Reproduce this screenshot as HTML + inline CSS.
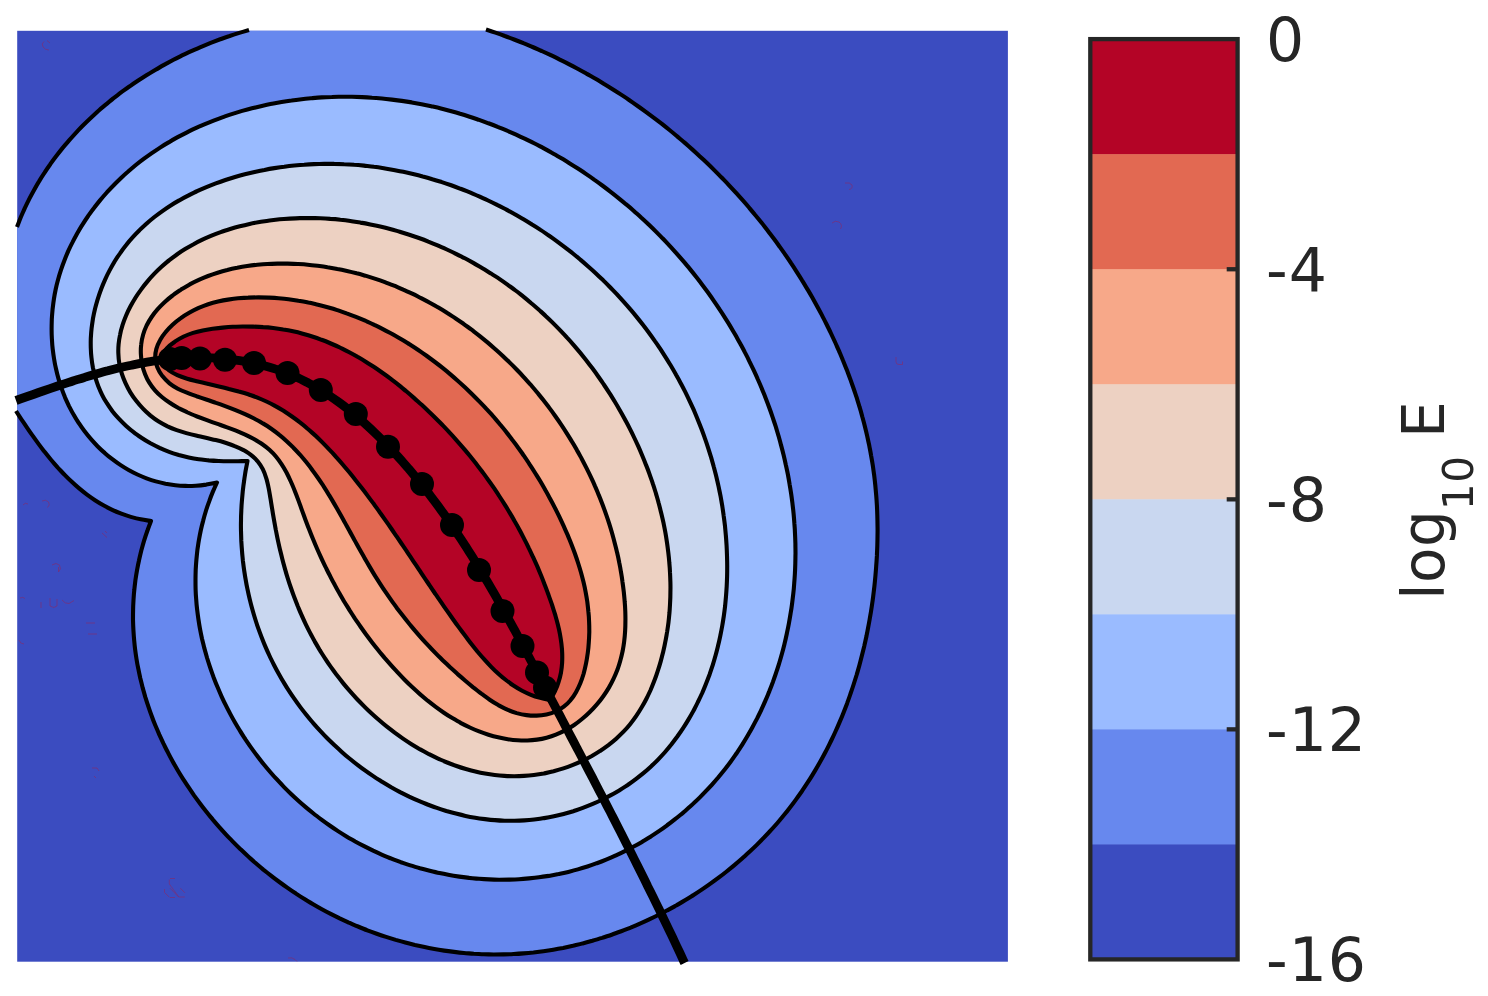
<!DOCTYPE html>
<html><head><meta charset="utf-8"><title>log10 E contour</title>
<style>html,body{margin:0;padding:0;background:#fff;overflow:hidden}svg{display:block}</style>
</head><body>
<svg width="1488" height="996" viewBox="0 0 1488 996">
<defs><clipPath id="pc"><rect x="17.2" y="30.8" width="990.7" height="930.9"/></clipPath></defs>
<rect x="17.2" y="30.8" width="990.7" height="930.9" fill="#3b4cc0"/>
<g clip-path="url(#pc)">
<path d="M249.0 30.0C247.4 30.5 242.6 31.9 239.3 32.9C236.1 33.9 232.9 34.9 229.7 36.0C226.5 37.0 223.3 38.2 220.2 39.3C217.0 40.5 213.8 41.7 210.7 42.9C207.5 44.2 204.4 45.5 201.2 46.8C198.1 48.1 195.0 49.5 191.9 50.9C188.8 52.3 185.7 53.7 182.6 55.2C179.6 56.7 176.5 58.2 173.5 59.8C170.5 61.4 167.5 63.0 164.5 64.6C161.5 66.3 158.5 68.0 155.6 69.7C152.6 71.4 149.7 73.2 146.8 75.0C143.9 76.8 141.0 78.6 138.2 80.5C135.3 82.4 132.5 84.3 129.7 86.3C126.9 88.2 124.2 90.2 121.4 92.2C118.7 94.3 116.0 96.3 113.3 98.4C110.7 100.6 108.0 102.7 105.4 104.9C102.8 107.1 100.2 109.3 97.7 111.5C95.2 113.8 92.7 116.1 90.2 118.4C87.7 120.7 85.3 123.1 82.9 125.5C80.5 127.9 78.2 130.4 75.9 132.8C73.6 135.3 71.3 137.8 69.1 140.4C66.9 142.9 64.7 145.5 62.5 148.1C60.4 150.7 58.3 153.4 56.3 156.0C54.2 158.7 52.2 161.4 50.3 164.2C48.3 167.0 46.4 169.7 44.6 172.6C42.7 175.4 40.9 178.2 39.2 181.1C37.4 184.0 35.7 187.0 34.1 189.9C32.4 192.9 30.8 195.9 29.3 198.9C27.8 201.9 26.3 205.0 24.8 208.1C23.4 211.2 22.1 214.3 20.7 217.4C19.4 220.6 17.6 225.4 17.0 227.0L-5 227.0 L-5 411.0 L16.0 411.0C16.9 412.4 19.6 416.5 21.4 419.3C23.3 422.1 25.1 424.9 27.0 427.6C28.9 430.4 30.8 433.2 32.8 435.9C34.7 438.6 36.7 441.4 38.7 444.1C40.7 446.8 42.8 449.5 44.8 452.1C46.9 454.8 49.0 457.4 51.2 460.0C53.4 462.5 55.6 465.1 57.8 467.6C60.1 470.0 62.3 472.5 64.7 474.9C67.0 477.3 69.4 479.6 71.8 481.8C74.2 484.1 76.7 486.3 79.2 488.4C81.8 490.6 84.3 492.6 87.0 494.6C89.6 496.5 92.3 498.4 95.0 500.2C97.8 502.0 100.6 503.7 103.4 505.3C106.3 506.9 109.2 508.4 112.2 509.8C115.1 511.2 118.2 512.5 121.3 513.7C124.4 514.9 127.5 516.0 130.8 516.9C134.0 517.8 137.3 518.7 140.7 519.3C144.0 520.0 149.3 520.7 151.0 521.0C150.4 522.6 148.5 527.5 147.4 530.8C146.2 534.1 145.1 537.4 144.1 540.6C143.1 543.9 142.2 547.2 141.3 550.5C140.5 553.8 139.7 557.1 139.0 560.4C138.2 563.7 137.6 567.0 137.0 570.3C136.4 573.6 135.9 576.9 135.4 580.2C135.0 583.5 134.6 586.8 134.3 590.1C133.9 593.4 133.7 596.7 133.5 600.0C133.3 603.3 133.1 606.6 133.1 609.9C133.0 613.2 133.0 616.5 133.0 619.8C133.1 623.1 133.2 626.4 133.4 629.7C133.6 632.9 133.8 636.2 134.1 639.5C134.4 642.7 134.7 646.0 135.1 649.3C135.5 652.5 136.0 655.8 136.5 659.0C137.0 662.3 137.6 665.5 138.3 668.7C138.9 671.9 139.6 675.1 140.3 678.3C141.1 681.5 141.9 684.7 142.7 687.9C143.6 691.1 144.5 694.3 145.4 697.4C146.4 700.6 147.4 703.7 148.5 706.9C149.5 710.0 150.6 713.1 151.8 716.2C152.9 719.3 154.1 722.4 155.4 725.5C156.7 728.5 158.0 731.6 159.3 734.6C160.7 737.7 162.1 740.7 163.5 743.7C165.0 746.7 166.4 749.7 168.0 752.6C169.5 755.6 171.1 758.6 172.7 761.5C174.3 764.4 176.0 767.3 177.7 770.2C179.4 773.1 181.2 776.0 183.0 778.8C184.8 781.6 186.6 784.5 188.5 787.2C190.4 790.0 192.3 792.8 194.2 795.6C196.2 798.3 198.2 801.0 200.2 803.7C202.2 806.4 204.3 809.1 206.4 811.7C208.5 814.4 210.7 817.0 212.8 819.6C215.0 822.2 217.2 824.8 219.5 827.3C221.7 829.8 224.0 832.3 226.3 834.8C228.6 837.3 231.0 839.7 233.3 842.1C235.7 844.6 238.1 846.9 240.6 849.3C243.0 851.6 245.5 854.0 248.0 856.3C250.5 858.5 253.0 860.8 255.6 863.0C258.1 865.2 260.7 867.4 263.3 869.6C266.0 871.7 268.6 873.8 271.3 875.9C273.9 878.0 276.6 880.0 279.4 882.0C282.1 884.0 284.8 886.0 287.6 887.9C290.4 889.9 293.1 891.8 296.0 893.6C298.8 895.5 301.6 897.3 304.5 899.0C307.3 900.8 310.2 902.5 313.1 904.2C316.0 905.9 318.9 907.6 321.9 909.2C324.8 910.8 327.8 912.4 330.7 913.9C333.7 915.4 336.7 916.9 339.7 918.4C342.8 919.8 345.8 921.2 348.8 922.6C351.9 923.9 354.9 925.3 358.0 926.5C361.1 927.8 364.2 929.1 367.3 930.3C370.4 931.5 373.5 932.6 376.7 933.7C379.8 934.8 383.0 935.9 386.1 936.9C389.3 937.9 392.5 938.9 395.7 939.9C398.9 940.8 402.1 941.7 405.3 942.5C408.5 943.4 411.7 944.2 414.9 945.0C418.2 945.7 421.4 946.4 424.6 947.1C427.9 947.8 431.1 948.4 434.4 949.0C437.7 949.6 440.9 950.1 444.2 950.6C447.5 951.1 450.8 951.5 454.1 951.9C457.3 952.3 460.6 952.7 463.9 953.0C467.2 953.3 470.5 953.5 473.8 953.8C477.1 954.0 480.5 954.1 483.8 954.3C487.1 954.4 490.4 954.4 493.7 954.5C497.0 954.5 500.3 954.5 503.6 954.4C507.0 954.3 510.3 954.2 513.6 954.0C516.9 953.9 520.2 953.7 523.5 953.4C526.8 953.1 530.2 952.8 533.5 952.5C536.8 952.1 540.1 951.7 543.4 951.2C546.7 950.8 550.0 950.3 553.3 949.7C556.6 949.1 559.8 948.5 563.1 947.9C566.4 947.2 569.7 946.5 572.9 945.8C576.2 945.0 579.5 944.3 582.7 943.4C586.0 942.6 589.2 941.7 592.4 940.8C595.6 939.8 598.9 938.9 602.1 937.9C605.3 936.8 608.5 935.8 611.7 934.7C614.8 933.6 618.0 932.4 621.2 931.2C624.3 930.1 627.5 928.8 630.6 927.6C633.7 926.3 636.8 925.0 639.9 923.6C643.0 922.3 646.1 920.9 649.2 919.4C652.2 918.0 655.3 916.5 658.3 915.0C661.3 913.5 664.3 911.9 667.3 910.3C670.3 908.8 673.3 907.1 676.2 905.5C679.1 903.8 682.1 902.1 685.0 900.3C687.9 898.6 690.7 896.8 693.6 895.0C696.4 893.2 699.3 891.3 702.1 889.4C704.9 887.6 707.7 885.6 710.4 883.7C713.2 881.7 715.9 879.7 718.6 877.7C721.3 875.7 724.0 873.6 726.6 871.5C729.2 869.4 731.8 867.3 734.4 865.1C737.0 863.0 739.6 860.8 742.1 858.6C744.6 856.3 747.1 854.1 749.5 851.8C752.0 849.5 754.4 847.2 756.8 844.9C759.2 842.5 761.6 840.1 763.9 837.7C766.2 835.3 768.5 832.9 770.7 830.4C773.0 828.0 775.2 825.5 777.4 823.0C779.6 820.5 781.7 817.9 783.8 815.3C785.9 812.8 788.0 810.2 790.0 807.5C792.0 804.9 794.0 802.3 795.9 799.6C797.9 796.9 799.8 794.2 801.7 791.5C803.5 788.8 805.4 786.0 807.2 783.2C809.0 780.5 810.8 777.7 812.5 774.9C814.2 772.0 815.9 769.2 817.6 766.3C819.2 763.5 820.8 760.6 822.4 757.7C824.0 754.8 825.5 751.9 827.1 748.9C828.6 746.0 830.0 743.0 831.5 740.0C832.9 737.1 834.3 734.1 835.7 731.0C837.1 728.0 838.4 725.0 839.7 721.9C841.0 718.9 842.3 715.8 843.5 712.7C844.7 709.6 845.9 706.5 847.1 703.4C848.2 700.3 849.4 697.2 850.4 694.0C851.5 690.9 852.6 687.7 853.6 684.5C854.6 681.4 855.6 678.2 856.6 675.0C857.5 671.8 858.5 668.6 859.4 665.3C860.2 662.1 861.1 658.9 861.9 655.6C862.7 652.4 863.5 649.1 864.3 645.9C865.0 642.6 865.8 639.3 866.5 636.0C867.1 632.7 867.8 629.4 868.4 626.1C869.1 622.8 869.6 619.5 870.2 616.2C870.8 612.9 871.3 609.6 871.8 606.2C872.3 602.9 872.8 599.5 873.2 596.2C873.6 592.9 874.0 589.5 874.4 586.2C874.8 582.8 875.1 579.4 875.4 576.1C875.7 572.7 876.0 569.3 876.2 566.0C876.5 562.6 876.7 559.2 876.9 555.9C877.0 552.5 877.2 549.1 877.3 545.8C877.4 542.4 877.5 539.0 877.5 535.6C877.6 532.3 877.6 528.9 877.5 525.5C877.5 522.2 877.4 518.8 877.3 515.4C877.2 512.1 877.1 508.7 876.9 505.4C876.7 502.0 876.5 498.7 876.2 495.3C875.9 492.0 875.6 488.7 875.3 485.3C875.0 482.0 874.6 478.7 874.2 475.4C873.7 472.1 873.3 468.8 872.8 465.5C872.3 462.2 871.7 458.9 871.1 455.6C870.6 452.3 869.9 449.1 869.3 445.8C868.6 442.6 867.9 439.3 867.2 436.1C866.5 432.8 865.7 429.6 864.9 426.4C864.1 423.2 863.2 420.0 862.3 416.8C861.5 413.6 860.6 410.4 859.6 407.2C858.7 404.0 857.7 400.9 856.7 397.7C855.6 394.5 854.6 391.4 853.5 388.3C852.4 385.1 851.3 382.0 850.2 378.9C849.0 375.8 847.9 372.7 846.7 369.6C845.4 366.5 844.2 363.4 842.9 360.3C841.7 357.2 840.4 354.2 839.1 351.1C837.7 348.1 836.4 345.0 835.0 342.0C833.6 339.0 832.2 336.0 830.8 333.0C829.4 330.0 827.9 327.0 826.4 324.0C824.9 321.0 823.4 318.0 821.9 315.1C820.3 312.1 818.7 309.2 817.1 306.3C815.5 303.3 813.9 300.4 812.3 297.5C810.6 294.6 808.9 291.7 807.2 288.9C805.5 286.0 803.8 283.1 802.0 280.3C800.3 277.4 798.5 274.6 796.7 271.8C794.9 269.0 793.1 266.2 791.2 263.4C789.4 260.6 787.5 257.8 785.6 255.1C783.7 252.3 781.7 249.6 779.8 246.9C777.8 244.1 775.9 241.4 773.9 238.8C771.9 236.1 769.8 233.4 767.8 230.7C765.7 228.1 763.7 225.4 761.6 222.8C759.5 220.2 757.4 217.6 755.2 215.0C753.1 212.4 750.9 209.8 748.8 207.3C746.6 204.7 744.4 202.2 742.2 199.7C739.9 197.2 737.7 194.7 735.4 192.2C733.2 189.7 730.9 187.2 728.6 184.8C726.3 182.3 723.9 179.9 721.6 177.5C719.2 175.1 716.9 172.7 714.5 170.4C712.1 168.0 709.7 165.6 707.3 163.3C704.8 161.0 702.4 158.7 699.9 156.4C697.4 154.1 695.0 151.9 692.5 149.6C690.0 147.4 687.4 145.1 684.9 142.9C682.4 140.7 679.8 138.6 677.2 136.4C674.7 134.3 672.1 132.1 669.5 130.0C666.8 127.9 664.2 125.8 661.6 123.7C658.9 121.7 656.3 119.6 653.6 117.6C650.9 115.6 648.2 113.6 645.5 111.6C642.8 109.6 640.1 107.6 637.3 105.7C634.6 103.8 631.8 101.9 629.1 100.0C626.3 98.1 623.5 96.2 620.7 94.4C617.9 92.6 615.1 90.8 612.2 89.0C609.4 87.2 606.6 85.4 603.7 83.7C600.9 81.9 598.0 80.2 595.1 78.5C592.2 76.9 589.3 75.2 586.4 73.6C583.5 71.9 580.5 70.3 577.6 68.7C574.7 67.2 571.7 65.6 568.8 64.1C565.8 62.5 562.8 61.0 559.8 59.6C556.8 58.1 553.8 56.6 550.8 55.2C547.8 53.8 544.8 52.4 541.7 51.0C538.7 49.7 535.7 48.3 532.6 47.0C529.5 45.7 526.5 44.4 523.4 43.2C520.3 41.9 517.2 40.7 514.1 39.5C511.0 38.3 507.9 37.1 504.8 36.0C501.7 34.8 498.6 33.7 495.4 32.6C492.3 31.6 487.6 30.0 486.0 29.5L486.0 0 L249.0 0Z" fill="#6788ee"/>
<path d="M217.0 482.5C215.2 482.8 209.9 484.0 206.3 484.6C202.8 485.1 199.3 485.5 195.8 485.7C192.4 485.9 188.9 486.0 185.5 485.9C182.1 485.8 178.7 485.6 175.4 485.2C172.0 484.8 168.7 484.3 165.5 483.7C162.2 483.0 159.0 482.3 155.8 481.4C152.7 480.5 149.5 479.4 146.5 478.3C143.4 477.1 140.4 475.9 137.4 474.5C134.4 473.1 131.5 471.6 128.6 470.0C125.8 468.4 123.0 466.7 120.3 464.9C117.5 463.1 114.9 461.2 112.3 459.2C109.7 457.2 107.1 455.1 104.7 452.9C102.2 450.8 99.8 448.5 97.5 446.2C95.2 443.8 93.0 441.4 90.8 438.9C88.6 436.5 86.6 433.9 84.6 431.3C82.6 428.7 80.7 426.0 78.9 423.2C77.0 420.5 75.3 417.7 73.7 414.8C72.0 412.0 70.5 409.0 69.0 406.1C67.6 403.1 66.2 400.1 64.9 397.1C63.7 394.1 62.5 391.0 61.4 387.9C60.3 384.7 59.3 381.6 58.4 378.4C57.5 375.2 56.7 372.0 56.0 368.8C55.2 365.5 54.6 362.3 54.1 359.0C53.5 355.7 53.1 352.4 52.7 349.1C52.3 345.8 52.1 342.5 51.9 339.1C51.7 335.8 51.6 332.5 51.6 329.1C51.6 325.8 51.7 322.4 51.8 319.1C52.0 315.8 52.3 312.4 52.6 309.1C53.0 305.8 53.4 302.4 53.9 299.1C54.4 295.8 55.0 292.5 55.7 289.2C56.4 286.0 57.2 282.7 58.1 279.5C59.0 276.2 59.9 273.0 61.0 269.8C62.0 266.7 63.2 263.5 64.4 260.4C65.6 257.3 66.9 254.2 68.2 251.1C69.6 248.1 71.0 245.1 72.6 242.1C74.1 239.1 75.7 236.1 77.3 233.2C79.0 230.3 80.7 227.4 82.5 224.6C84.3 221.7 86.1 218.9 88.0 216.2C90.0 213.4 91.9 210.7 94.0 208.0C96.0 205.3 98.1 202.7 100.2 200.1C102.4 197.5 104.6 195.0 106.8 192.5C109.1 190.0 111.3 187.6 113.7 185.2C116.0 182.8 118.4 180.5 120.8 178.2C123.2 175.9 125.7 173.6 128.2 171.5C130.7 169.3 133.3 167.1 135.8 165.0C138.4 162.9 141.0 160.9 143.7 158.9C146.4 156.9 149.1 155.0 151.8 153.1C154.5 151.2 157.3 149.4 160.1 147.6C162.9 145.8 165.7 144.0 168.6 142.4C171.4 140.7 174.3 139.0 177.2 137.4C180.2 135.8 183.1 134.3 186.1 132.8C189.1 131.3 192.1 129.8 195.1 128.4C198.1 127.0 201.2 125.7 204.3 124.4C207.3 123.1 210.4 121.8 213.6 120.6C216.7 119.4 219.8 118.2 223.0 117.1C226.2 116.0 229.3 114.9 232.5 113.9C235.7 112.9 239.0 111.9 242.2 110.9C245.4 110.0 248.7 109.1 251.9 108.3C255.2 107.5 258.5 106.7 261.8 105.9C265.1 105.2 268.4 104.5 271.7 103.8C275.0 103.2 278.3 102.6 281.6 102.0C284.9 101.4 288.3 100.9 291.6 100.5C295.0 100.0 298.3 99.6 301.7 99.2C305.0 98.8 308.4 98.5 311.7 98.2C315.1 97.9 318.4 97.6 321.8 97.4C325.2 97.2 328.5 97.1 331.9 97.0C335.2 96.8 338.6 96.8 342.0 96.7C345.3 96.7 348.7 96.7 352.0 96.8C355.4 96.9 358.7 97.0 362.0 97.1C365.4 97.2 368.7 97.4 372.0 97.7C375.4 97.9 378.7 98.2 382.0 98.5C385.3 98.8 388.6 99.2 391.9 99.6C395.2 100.0 398.5 100.4 401.8 100.9C405.1 101.4 408.4 101.9 411.7 102.4C414.9 103.0 418.2 103.6 421.5 104.2C424.7 104.9 428.0 105.6 431.2 106.3C434.4 107.0 437.7 107.7 440.9 108.5C444.1 109.3 447.3 110.2 450.5 111.0C453.7 111.9 456.9 112.8 460.1 113.8C463.3 114.7 466.5 115.7 469.6 116.7C472.8 117.7 475.9 118.8 479.1 119.9C482.2 121.0 485.3 122.1 488.4 123.3C491.6 124.4 494.7 125.6 497.7 126.9C500.8 128.1 503.9 129.4 507.0 130.7C510.0 132.0 513.1 133.3 516.1 134.7C519.1 136.1 522.2 137.5 525.2 138.9C528.2 140.4 531.2 141.8 534.1 143.3C537.1 144.8 540.1 146.4 543.0 147.9C545.9 149.5 548.9 151.1 551.8 152.8C554.7 154.4 557.6 156.1 560.5 157.8C563.3 159.4 566.2 161.2 569.0 162.9C571.9 164.7 574.7 166.5 577.5 168.3C580.3 170.1 583.1 172.0 585.9 173.9C588.6 175.7 591.4 177.6 594.1 179.6C596.9 181.5 599.6 183.5 602.3 185.5C605.0 187.5 607.6 189.5 610.3 191.6C612.9 193.6 615.6 195.7 618.2 197.8C620.8 199.9 623.4 202.0 625.9 204.2C628.5 206.3 631.1 208.5 633.6 210.7C636.1 213.0 638.6 215.2 641.1 217.5C643.6 219.7 646.0 222.0 648.4 224.3C650.9 226.7 653.3 229.0 655.7 231.4C658.1 233.7 660.4 236.1 662.8 238.5C665.1 240.9 667.4 243.4 669.7 245.8C672.0 248.3 674.2 250.8 676.5 253.3C678.7 255.8 680.9 258.3 683.1 260.9C685.3 263.4 687.4 266.0 689.6 268.6C691.7 271.2 693.8 273.8 695.9 276.5C698.0 279.1 700.0 281.8 702.0 284.4C704.0 287.1 706.0 289.8 708.0 292.5C710.0 295.3 711.9 298.0 713.8 300.8C715.7 303.5 717.6 306.3 719.4 309.1C721.3 311.9 723.1 314.7 724.9 317.6C726.7 320.4 728.5 323.2 730.2 326.1C731.9 329.0 733.6 331.9 735.3 334.8C736.9 337.7 738.6 340.6 740.2 343.5C741.8 346.5 743.4 349.4 744.9 352.4C746.5 355.4 748.0 358.3 749.4 361.3C750.9 364.3 752.4 367.4 753.8 370.4C755.2 373.4 756.6 376.4 757.9 379.5C759.3 382.6 760.6 385.6 761.9 388.7C763.1 391.8 764.4 394.9 765.6 398.0C766.8 401.1 768.0 404.2 769.1 407.3C770.3 410.5 771.4 413.6 772.5 416.8C773.5 419.9 774.6 423.1 775.6 426.2C776.6 429.4 777.5 432.6 778.5 435.8C779.4 439.0 780.3 442.2 781.1 445.4C782.0 448.6 782.8 451.8 783.6 455.0C784.4 458.3 785.1 461.5 785.8 464.7C786.6 468.0 787.2 471.2 787.9 474.5C788.5 477.7 789.1 481.0 789.6 484.3C790.2 487.5 790.7 490.8 791.2 494.1C791.7 497.4 792.1 500.7 792.5 503.9C792.9 507.2 793.3 510.5 793.6 513.8C793.9 517.1 794.2 520.4 794.4 523.7C794.7 527.0 794.9 530.4 795.0 533.7C795.2 537.0 795.3 540.3 795.4 543.6C795.4 546.9 795.5 550.3 795.5 553.6C795.4 556.9 795.4 560.2 795.3 563.6C795.2 566.9 795.1 570.2 794.9 573.5C794.7 576.9 794.5 580.2 794.2 583.5C794.0 586.8 793.7 590.2 793.3 593.5C792.9 596.8 792.5 600.1 792.1 603.5C791.7 606.8 791.2 610.1 790.6 613.4C790.1 616.7 789.5 620.0 788.9 623.3C788.3 626.6 787.6 629.9 786.9 633.2C786.2 636.5 785.5 639.8 784.7 643.1C783.9 646.3 783.1 649.6 782.2 652.8C781.3 656.1 780.4 659.3 779.4 662.5C778.4 665.7 777.4 669.0 776.3 672.1C775.3 675.3 774.1 678.5 773.0 681.7C771.8 684.8 770.6 688.0 769.4 691.1C768.1 694.2 766.9 697.3 765.5 700.4C764.2 703.5 762.8 706.5 761.4 709.6C760.0 712.6 758.5 715.6 757.0 718.6C755.4 721.6 753.9 724.6 752.3 727.5C750.7 730.5 749.0 733.4 747.3 736.3C745.6 739.2 743.9 742.0 742.1 744.9C740.3 747.7 738.4 750.5 736.6 753.3C734.7 756.0 732.8 758.8 730.8 761.5C728.8 764.2 726.8 766.9 724.7 769.5C722.6 772.1 720.5 774.7 718.4 777.3C716.2 779.9 714.0 782.4 711.8 784.9C709.5 787.4 707.2 789.8 704.9 792.2C702.6 794.7 700.2 797.0 697.8 799.4C695.4 801.7 692.9 804.0 690.4 806.3C688.0 808.5 685.4 810.7 682.9 812.9C680.3 815.0 677.7 817.2 675.1 819.2C672.5 821.3 669.8 823.4 667.1 825.3C664.4 827.3 661.7 829.3 658.9 831.1C656.1 833.0 653.3 834.9 650.5 836.7C647.7 838.5 644.8 840.2 642.0 841.9C639.1 843.6 636.2 845.2 633.2 846.8C630.3 848.4 627.3 849.9 624.3 851.4C621.4 852.9 618.3 854.3 615.3 855.7C612.3 857.1 609.2 858.4 606.1 859.6C603.1 860.9 600.0 862.1 596.8 863.2C593.7 864.4 590.6 865.5 587.4 866.5C584.3 867.5 581.1 868.5 577.9 869.4C574.7 870.3 571.5 871.1 568.3 871.9C565.1 872.7 561.8 873.4 558.6 874.1C555.3 874.7 552.1 875.3 548.8 875.9C545.5 876.4 542.2 876.9 538.9 877.3C535.6 877.8 532.3 878.1 529.0 878.4C525.7 878.7 522.4 879.0 519.1 879.2C515.8 879.4 512.4 879.5 509.1 879.6C505.8 879.7 502.5 879.7 499.1 879.7C495.8 879.7 492.5 879.6 489.1 879.4C485.8 879.3 482.5 879.1 479.2 878.8C475.8 878.6 472.5 878.2 469.2 877.9C465.9 877.5 462.6 877.1 459.3 876.6C456.0 876.1 452.7 875.6 449.4 875.0C446.1 874.4 442.8 873.8 439.5 873.1C436.3 872.4 433.0 871.6 429.7 870.8C426.5 870.0 423.3 869.2 420.0 868.3C416.8 867.3 413.6 866.4 410.4 865.4C407.2 864.4 404.1 863.3 400.9 862.2C397.8 861.0 394.6 859.9 391.5 858.6C388.4 857.4 385.3 856.1 382.2 854.8C379.2 853.5 376.1 852.1 373.1 850.7C370.1 849.2 367.1 847.7 364.1 846.2C361.1 844.7 358.1 843.1 355.2 841.5C352.3 839.8 349.4 838.2 346.5 836.4C343.7 834.7 340.8 832.9 338.0 831.1C335.2 829.3 332.4 827.4 329.7 825.5C326.9 823.6 324.2 821.6 321.5 819.6C318.8 817.6 316.1 815.6 313.5 813.5C310.9 811.4 308.3 809.3 305.7 807.1C303.2 805.0 300.6 802.8 298.1 800.5C295.7 798.3 293.2 796.0 290.8 793.7C288.3 791.3 286.0 789.0 283.6 786.6C281.3 784.2 279.0 781.7 276.7 779.2C274.4 776.8 272.2 774.3 270.0 771.7C267.8 769.2 265.6 766.6 263.5 764.0C261.4 761.4 259.3 758.7 257.3 756.0C255.3 753.4 253.3 750.7 251.3 747.9C249.4 745.2 247.5 742.4 245.6 739.6C243.8 736.8 241.9 734.0 240.2 731.1C238.4 728.3 236.7 725.4 235.0 722.5C233.3 719.5 231.7 716.6 230.1 713.6C228.5 710.7 227.0 707.7 225.5 704.7C224.0 701.7 222.6 698.6 221.2 695.6C219.8 692.5 218.5 689.4 217.2 686.3C215.9 683.3 214.7 680.1 213.5 677.0C212.4 673.9 211.2 670.7 210.2 667.6C209.1 664.4 208.1 661.2 207.1 658.0C206.2 654.8 205.3 651.6 204.4 648.4C203.6 645.2 202.8 641.9 202.0 638.7C201.3 635.5 200.6 632.2 200.0 628.9C199.4 625.7 198.9 622.4 198.4 619.1C197.9 615.8 197.5 612.6 197.1 609.3C196.7 606.0 196.4 602.7 196.2 599.4C195.9 596.1 195.7 592.8 195.6 589.5C195.5 586.2 195.5 582.9 195.5 579.6C195.5 576.3 195.6 573.0 195.7 569.7C195.9 566.4 196.1 563.1 196.4 559.8C196.7 556.5 197.0 553.2 197.4 549.9C197.9 546.7 198.3 543.4 198.9 540.1C199.5 536.8 200.1 533.6 200.8 530.3C201.5 527.1 202.3 523.8 203.2 520.6C204.0 517.4 204.9 514.2 205.9 511.0C206.9 507.7 208.0 504.6 209.2 501.4C210.3 498.2 211.5 495.0 212.8 491.9C214.2 488.7 216.3 484.1 217.0 482.5Z" fill="#9abbff"/>
<path d="M247.5 461.0C245.9 461.0 241.3 461.2 238.1 461.3C235.0 461.3 231.8 461.3 228.5 461.3C225.3 461.3 222.0 461.2 218.7 461.0C215.4 460.9 212.0 460.7 208.7 460.4C205.4 460.0 202.0 459.7 198.7 459.2C195.3 458.7 192.0 458.1 188.7 457.4C185.4 456.7 182.1 455.9 178.8 455.0C175.5 454.0 172.3 453.0 169.1 451.8C165.9 450.6 162.7 449.3 159.6 447.9C156.5 446.4 153.5 444.9 150.5 443.3C147.5 441.6 144.6 439.9 141.8 438.0C139.0 436.1 136.2 434.2 133.6 432.1C130.9 430.1 128.3 427.9 125.9 425.7C123.4 423.4 121.0 421.1 118.8 418.7C116.6 416.3 114.4 413.8 112.4 411.2C110.5 408.6 108.6 405.9 106.9 403.2C105.1 400.5 103.5 397.7 102.1 394.8C100.7 392.0 99.4 389.0 98.2 386.0C97.1 383.1 96.1 380.0 95.2 376.9C94.3 373.9 93.6 370.7 92.9 367.5C92.3 364.4 91.8 361.2 91.5 357.9C91.1 354.7 90.9 351.4 90.8 348.2C90.7 344.9 90.7 341.6 90.8 338.3C91.0 335.0 91.2 331.6 91.6 328.3C92.0 325.0 92.5 321.7 93.0 318.4C93.6 315.1 94.3 311.8 95.1 308.5C96.0 305.2 96.9 301.9 97.9 298.7C98.9 295.4 100.0 292.2 101.2 289.0C102.4 285.8 103.7 282.7 105.1 279.6C106.5 276.5 108.0 273.4 109.6 270.4C111.2 267.4 112.9 264.4 114.6 261.5C116.4 258.6 118.2 255.8 120.2 253.1C122.1 250.3 124.1 247.6 126.2 245.0C128.2 242.4 130.4 239.8 132.6 237.4C134.8 234.9 137.1 232.5 139.5 230.2C141.8 227.8 144.3 225.6 146.7 223.4C149.2 221.2 151.8 219.1 154.4 217.0C157.0 215.0 159.7 213.0 162.4 211.1C165.1 209.2 167.8 207.3 170.7 205.5C173.5 203.7 176.3 202.0 179.2 200.4C182.1 198.7 185.1 197.1 188.1 195.6C191.0 194.0 194.1 192.6 197.1 191.1C200.2 189.7 203.3 188.4 206.4 187.1C209.5 185.8 212.6 184.6 215.8 183.4C219.0 182.2 222.1 181.1 225.4 180.0C228.6 179.0 231.8 178.0 235.0 177.0C238.3 176.0 241.5 175.1 244.8 174.3C248.1 173.5 251.4 172.7 254.6 171.9C257.9 171.2 261.2 170.5 264.5 169.9C267.8 169.2 271.1 168.6 274.4 168.1C277.7 167.6 281.0 167.1 284.3 166.7C287.6 166.2 291.0 165.8 294.3 165.5C297.6 165.2 300.9 164.9 304.2 164.7C307.6 164.4 310.9 164.2 314.2 164.1C317.5 164.0 320.9 163.9 324.2 163.8C327.5 163.8 330.8 163.8 334.2 163.9C337.5 163.9 340.8 164.0 344.1 164.2C347.4 164.3 350.8 164.5 354.1 164.8C357.4 165.0 360.7 165.3 364.0 165.6C367.3 166.0 370.6 166.3 373.9 166.8C377.2 167.2 380.5 167.7 383.7 168.2C387.0 168.7 390.3 169.3 393.6 169.9C396.8 170.5 400.1 171.1 403.3 171.8C406.6 172.5 409.8 173.2 413.0 174.0C416.3 174.8 419.5 175.6 422.7 176.5C425.9 177.3 429.1 178.2 432.3 179.2C435.5 180.1 438.6 181.1 441.8 182.1C444.9 183.1 448.1 184.2 451.2 185.3C454.4 186.4 457.5 187.6 460.6 188.8C463.7 189.9 466.8 191.2 469.9 192.4C472.9 193.7 476.0 195.0 479.1 196.4C482.1 197.7 485.1 199.1 488.1 200.5C491.2 201.9 494.2 203.4 497.1 204.9C500.1 206.3 503.1 207.9 506.0 209.4C509.0 211.0 511.9 212.6 514.8 214.2C517.7 215.9 520.6 217.5 523.5 219.2C526.4 220.9 529.2 222.7 532.0 224.5C534.9 226.2 537.7 228.0 540.5 229.9C543.3 231.7 546.0 233.6 548.8 235.5C551.5 237.4 554.3 239.4 557.0 241.3C559.7 243.3 562.3 245.3 565.0 247.3C567.6 249.4 570.3 251.4 572.9 253.5C575.5 255.6 578.1 257.8 580.6 259.9C583.2 262.1 585.7 264.3 588.2 266.5C590.7 268.7 593.2 270.9 595.7 273.2C598.1 275.5 600.6 277.8 603.0 280.1C605.4 282.5 607.7 284.8 610.1 287.2C612.4 289.6 614.8 292.0 617.0 294.4C619.3 296.9 621.6 299.4 623.8 301.8C626.1 304.3 628.3 306.9 630.4 309.4C632.6 311.9 634.7 314.5 636.8 317.1C638.9 319.7 641.0 322.3 643.1 325.0C645.1 327.6 647.1 330.3 649.1 333.0C651.1 335.7 653.0 338.4 654.9 341.1C656.9 343.8 658.7 346.6 660.6 349.4C662.4 352.2 664.2 355.0 666.0 357.8C667.8 360.6 669.5 363.5 671.2 366.3C672.9 369.2 674.6 372.1 676.2 375.0C677.9 377.9 679.5 380.8 681.0 383.8C682.6 386.7 684.1 389.7 685.6 392.6C687.1 395.6 688.5 398.6 689.9 401.6C691.3 404.7 692.7 407.7 694.1 410.7C695.4 413.8 696.7 416.9 697.9 419.9C699.2 423.0 700.4 426.1 701.6 429.2C702.8 432.3 703.9 435.5 705.0 438.6C706.1 441.7 707.2 444.9 708.2 448.1C709.2 451.2 710.2 454.4 711.2 457.6C712.1 460.8 713.0 464.0 713.9 467.2C714.7 470.4 715.6 473.6 716.4 476.9C717.1 480.1 717.9 483.4 718.6 486.6C719.3 489.9 719.9 493.1 720.6 496.4C721.2 499.7 721.7 503.0 722.3 506.2C722.8 509.5 723.3 512.8 723.7 516.1C724.2 519.4 724.6 522.7 725.0 526.1C725.3 529.4 725.6 532.7 725.9 536.0C726.2 539.3 726.4 542.7 726.6 546.0C726.8 549.3 726.9 552.7 727.0 556.0C727.1 559.4 727.2 562.7 727.2 566.1C727.2 569.4 727.2 572.8 727.1 576.1C727.0 579.4 726.9 582.8 726.7 586.1C726.5 589.5 726.3 592.8 726.0 596.2C725.7 599.5 725.4 602.8 725.1 606.1C724.7 609.5 724.3 612.8 723.8 616.1C723.3 619.4 722.8 622.7 722.2 626.0C721.6 629.3 721.0 632.6 720.3 635.8C719.6 639.1 718.9 642.4 718.1 645.6C717.3 648.8 716.5 652.1 715.6 655.3C714.7 658.5 713.8 661.7 712.8 664.9C711.7 668.1 710.7 671.2 709.6 674.4C708.4 677.5 707.3 680.6 706.0 683.7C704.8 686.8 703.5 689.9 702.2 693.0C700.8 696.0 699.4 699.0 697.9 702.0C696.5 705.0 694.9 708.0 693.4 710.9C691.8 713.9 690.1 716.8 688.4 719.6C686.7 722.5 685.0 725.3 683.1 728.1C681.3 730.9 679.4 733.6 677.5 736.3C675.5 739.0 673.5 741.7 671.5 744.3C669.4 746.9 667.3 749.5 665.1 752.0C662.9 754.5 660.6 756.9 658.3 759.3C656.0 761.7 653.6 764.0 651.2 766.3C648.8 768.5 646.3 770.8 643.7 772.9C641.1 775.0 638.5 777.1 635.8 779.1C633.2 781.1 630.4 783.1 627.7 785.0C624.9 786.8 622.0 788.7 619.2 790.4C616.3 792.1 613.4 793.8 610.4 795.4C607.4 797.0 604.4 798.6 601.4 800.0C598.4 801.5 595.3 802.9 592.2 804.2C589.1 805.5 586.0 806.7 582.8 807.9C579.7 809.1 576.5 810.1 573.3 811.2C570.1 812.2 566.9 813.1 563.6 814.0C560.4 814.8 557.1 815.6 553.9 816.3C550.6 817.0 547.3 817.6 544.1 818.1C540.8 818.7 537.5 819.1 534.2 819.5C530.9 819.9 527.6 820.2 524.3 820.4C521.1 820.6 517.8 820.7 514.5 820.7C511.2 820.8 507.9 820.8 504.6 820.7C501.3 820.6 498.1 820.4 494.8 820.1C491.5 819.9 488.2 819.5 485.0 819.1C481.7 818.7 478.5 818.3 475.2 817.7C472.0 817.2 468.7 816.6 465.5 815.9C462.3 815.2 459.1 814.4 455.9 813.6C452.7 812.8 449.5 811.9 446.3 811.0C443.1 810.0 440.0 809.0 436.9 807.9C433.7 806.9 430.6 805.7 427.5 804.5C424.4 803.3 421.3 802.0 418.2 800.7C415.2 799.4 412.1 798.0 409.1 796.6C406.1 795.1 403.1 793.6 400.1 792.1C397.1 790.5 394.2 788.9 391.2 787.3C388.3 785.6 385.4 783.9 382.5 782.1C379.7 780.3 376.8 778.5 374.0 776.6C371.2 774.8 368.4 772.9 365.7 770.9C362.9 768.9 360.2 766.9 357.5 764.8C354.8 762.8 352.2 760.7 349.5 758.5C346.9 756.4 344.3 754.2 341.8 751.9C339.3 749.7 336.8 747.4 334.3 745.1C331.8 742.7 329.4 740.4 327.0 738.0C324.6 735.6 322.3 733.1 320.0 730.6C317.7 728.2 315.4 725.6 313.2 723.1C311.0 720.5 308.8 718.0 306.7 715.3C304.6 712.7 302.5 710.1 300.5 707.4C298.5 704.7 296.5 702.0 294.6 699.2C292.7 696.5 290.8 693.7 289.0 690.9C287.1 688.1 285.4 685.3 283.7 682.4C281.9 679.6 280.3 676.7 278.7 673.8C277.0 670.8 275.5 667.9 274.0 665.0C272.5 662.0 271.0 659.0 269.6 656.0C268.2 653.0 266.8 650.0 265.5 646.9C264.2 643.9 263.0 640.8 261.8 637.7C260.6 634.6 259.4 631.5 258.3 628.4C257.2 625.3 256.2 622.2 255.2 619.0C254.2 615.8 253.3 612.7 252.4 609.5C251.5 606.3 250.6 603.1 249.9 599.9C249.1 596.7 248.3 593.4 247.7 590.2C247.0 586.9 246.3 583.7 245.8 580.4C245.2 577.2 244.7 573.9 244.2 570.6C243.7 567.3 243.3 564.0 242.9 560.7C242.6 557.4 242.2 554.1 242.0 550.8C241.7 547.5 241.5 544.2 241.3 540.9C241.2 537.5 241.1 534.2 241.0 530.9C240.9 527.5 240.9 524.2 241.0 520.9C241.0 517.5 241.1 514.2 241.3 510.9C241.4 507.5 241.6 504.2 241.9 500.9C242.2 497.5 242.5 494.2 242.8 490.9C243.2 487.5 243.6 484.2 244.1 480.9C244.5 477.6 245.1 474.2 245.6 470.9C246.2 467.6 247.2 462.7 247.5 461.0Z" fill="#c9d7f0"/>
<path d="M299.9 218.1C303.3 218.0 306.7 218.0 310.1 218.0C313.5 218.1 316.8 218.2 320.2 218.3C323.6 218.4 327.0 218.6 330.3 218.9C333.7 219.1 337.0 219.4 340.4 219.8C343.7 220.1 347.1 220.5 350.4 221.0C353.7 221.5 357.1 222.0 360.4 222.6C363.7 223.1 367.0 223.7 370.3 224.4C373.6 225.1 376.9 225.8 380.2 226.5C383.5 227.3 386.7 228.1 390.0 229.0C393.2 229.8 396.5 230.8 399.7 231.7C402.9 232.7 406.1 233.7 409.3 234.7C412.5 235.8 415.7 236.9 418.9 238.0C422.0 239.1 425.2 240.3 428.3 241.6C431.4 242.8 434.6 244.1 437.6 245.4C440.7 246.7 443.8 248.1 446.9 249.5C449.9 250.9 452.9 252.3 456.0 253.8C459.0 255.3 462.0 256.8 464.9 258.3C467.9 259.9 470.8 261.5 473.7 263.1C476.7 264.8 479.5 266.5 482.4 268.2C485.3 269.9 488.1 271.7 490.9 273.4C493.7 275.2 496.5 277.1 499.3 278.9C502.1 280.8 504.8 282.7 507.5 284.6C510.2 286.6 512.9 288.5 515.5 290.5C518.2 292.5 520.8 294.6 523.4 296.6C526.0 298.7 528.5 300.8 531.0 303.0C533.6 305.1 536.1 307.3 538.6 309.5C541.0 311.7 543.5 313.9 545.9 316.2C548.3 318.4 550.7 320.7 553.1 323.1C555.4 325.4 557.7 327.7 560.0 330.1C562.3 332.5 564.6 334.9 566.8 337.4C569.1 339.8 571.3 342.3 573.5 344.8C575.6 347.3 577.8 349.9 579.9 352.4C582.0 355.0 584.1 357.6 586.2 360.2C588.2 362.8 590.2 365.5 592.2 368.1C594.2 370.8 596.2 373.5 598.1 376.2C600.1 379.0 602.0 381.7 603.8 384.5C605.7 387.3 607.5 390.1 609.3 392.9C611.1 395.7 612.9 398.6 614.7 401.5C616.4 404.3 618.1 407.2 619.8 410.2C621.5 413.1 623.1 416.0 624.7 419.0C626.3 422.0 627.9 424.9 629.4 427.9C631.0 431.0 632.5 434.0 633.9 437.0C635.4 440.1 636.8 443.1 638.2 446.2C639.6 449.3 640.9 452.4 642.2 455.5C643.5 458.6 644.8 461.8 646.0 464.9C647.3 468.0 648.5 471.2 649.6 474.4C650.7 477.6 651.9 480.7 652.9 483.9C654.0 487.1 655.0 490.4 656.0 493.6C656.9 496.8 657.9 500.0 658.7 503.3C659.6 506.5 660.4 509.8 661.2 513.0C662.0 516.3 662.8 519.6 663.5 522.9C664.1 526.1 664.8 529.4 665.4 532.7C666.0 536.0 666.5 539.3 667.0 542.6C667.5 545.9 667.9 549.2 668.3 552.5C668.7 555.8 669.1 559.2 669.3 562.5C669.6 565.8 669.9 569.1 670.0 572.4C670.2 575.8 670.3 579.1 670.4 582.4C670.5 585.7 670.5 589.0 670.4 592.4C670.4 595.7 670.3 599.0 670.1 602.3C670.0 605.6 669.7 608.9 669.5 612.3C669.2 615.6 668.9 618.9 668.5 622.2C668.1 625.5 667.6 628.8 667.1 632.0C666.5 635.3 666.0 638.6 665.3 641.9C664.7 645.2 664.0 648.4 663.2 651.7C662.4 654.9 661.6 658.2 660.7 661.4C659.8 664.7 658.8 667.9 657.7 671.1C656.7 674.3 655.6 677.5 654.4 680.6C653.2 683.8 651.9 686.9 650.6 690.0C649.2 693.0 647.8 696.1 646.3 699.0C644.8 702.0 643.1 705.0 641.4 707.8C639.7 710.7 637.9 713.5 636.1 716.2C634.2 719.0 632.2 721.6 630.1 724.2C628.0 726.8 625.8 729.3 623.5 731.7C621.1 734.1 618.7 736.4 616.2 738.7C613.7 740.9 611.1 743.0 608.4 745.1C605.7 747.1 603.0 749.1 600.1 750.9C597.3 752.8 594.4 754.5 591.4 756.2C588.4 757.8 585.4 759.4 582.3 760.9C579.3 762.3 576.1 763.7 573.0 764.9C569.8 766.2 566.6 767.4 563.4 768.4C560.1 769.5 556.9 770.4 553.6 771.3C550.3 772.1 547.0 772.8 543.8 773.5C540.5 774.1 537.2 774.6 533.9 775.0C530.6 775.4 527.3 775.7 524.0 775.9C520.7 776.1 517.5 776.2 514.2 776.2C510.9 776.2 507.7 776.1 504.4 775.9C501.1 775.7 497.9 775.4 494.7 775.0C491.4 774.6 488.2 774.1 485.0 773.5C481.8 773.0 478.6 772.3 475.4 771.5C472.2 770.8 469.0 769.9 465.9 769.0C462.7 768.1 459.6 767.1 456.5 766.0C453.4 764.9 450.3 763.8 447.2 762.5C444.1 761.3 441.1 759.9 438.1 758.6C435.0 757.2 432.0 755.7 429.0 754.2C426.1 752.6 423.1 751.0 420.2 749.4C417.3 747.7 414.4 746.0 411.5 744.2C408.6 742.4 405.8 740.5 403.0 738.6C400.2 736.7 397.4 734.7 394.7 732.7C392.0 730.6 389.3 728.5 386.6 726.4C383.9 724.3 381.3 722.1 378.7 719.8C376.1 717.6 373.6 715.3 371.1 713.0C368.6 710.6 366.1 708.3 363.7 705.8C361.3 703.4 358.9 701.0 356.5 698.5C354.2 696.0 351.9 693.4 349.7 690.9C347.4 688.3 345.2 685.7 343.1 683.1C340.9 680.4 338.9 677.8 336.8 675.1C334.8 672.4 332.8 669.6 330.8 666.9C328.9 664.2 327.0 661.4 325.2 658.6C323.3 655.8 321.6 653.0 319.8 650.2C318.1 647.3 316.5 644.5 314.8 641.6C313.2 638.7 311.6 635.8 310.1 632.9C308.6 630.0 307.1 627.0 305.7 624.1C304.3 621.1 302.9 618.1 301.6 615.1C300.2 612.1 299.0 609.1 297.7 606.0C296.5 603.0 295.3 599.9 294.1 596.8C293.0 593.8 291.9 590.7 290.8 587.5C289.7 584.4 288.7 581.3 287.7 578.1C286.7 575.0 285.8 571.8 284.9 568.6C284.0 565.4 283.1 562.2 282.3 559.0C281.5 555.7 280.7 552.5 279.9 549.2C279.1 546.0 278.4 542.7 277.7 539.4C277.0 536.1 276.4 532.8 275.7 529.4C275.1 526.1 274.5 522.7 273.9 519.3C273.3 516.0 272.7 512.5 272.2 509.1C271.6 505.7 271.1 502.2 270.5 498.7C269.9 495.2 269.4 491.7 268.7 488.3C268.0 484.9 267.3 481.5 266.3 478.3C265.3 475.1 264.2 472.0 262.8 469.2C261.4 466.4 259.7 463.9 257.8 461.5C255.9 459.2 253.6 457.1 251.2 455.2C248.9 453.3 246.2 451.7 243.5 450.1C240.7 448.6 237.7 447.3 234.7 446.1C231.7 444.8 228.5 443.8 225.4 442.8C222.2 441.8 218.9 440.9 215.7 440.1C212.4 439.3 209.1 438.6 205.8 437.8C202.6 437.0 199.3 436.3 196.0 435.5C192.7 434.8 189.5 434.0 186.3 433.1C183.1 432.2 179.9 431.2 176.7 430.1C173.6 429.0 170.5 427.8 167.5 426.4C164.5 424.9 161.6 423.4 158.7 421.6C155.9 419.8 153.1 417.7 150.5 415.6C147.9 413.4 145.3 411.1 143.0 408.6C140.6 406.2 138.3 403.5 136.2 400.8C134.1 398.1 132.1 395.2 130.3 392.3C128.5 389.3 126.9 386.3 125.5 383.2C124.1 380.1 122.8 376.9 121.8 373.7C120.8 370.5 120.0 367.3 119.4 364.0C118.8 360.7 118.5 357.5 118.4 354.2C118.2 350.9 118.3 347.6 118.6 344.3C118.9 341.1 119.4 337.8 120.1 334.6C120.7 331.3 121.6 328.1 122.6 324.9C123.6 321.7 124.8 318.6 126.1 315.5C127.4 312.4 128.9 309.3 130.5 306.3C132.1 303.3 133.8 300.4 135.6 297.5C137.4 294.6 139.4 291.8 141.4 289.1C143.4 286.3 145.5 283.7 147.7 281.1C149.8 278.6 152.1 276.1 154.4 273.7C156.7 271.3 159.1 269.0 161.5 266.8C163.9 264.6 166.5 262.5 169.0 260.4C171.6 258.4 174.2 256.4 176.9 254.5C179.6 252.6 182.3 250.8 185.1 249.1C187.9 247.4 190.7 245.7 193.6 244.2C196.5 242.6 199.4 241.1 202.4 239.7C205.4 238.3 208.4 237.0 211.5 235.7C214.5 234.4 217.6 233.2 220.7 232.1C223.8 231.0 227.0 230.0 230.2 229.0C233.4 228.0 236.6 227.1 239.8 226.3C243.1 225.4 246.4 224.6 249.6 223.9C252.9 223.2 256.2 222.6 259.6 222.0C262.9 221.5 266.2 220.9 269.6 220.5C272.9 220.1 276.3 219.7 279.7 219.3C283.0 219.0 286.4 218.8 289.8 218.6C293.2 218.4 296.6 218.2 299.9 218.1Z" fill="#edd1c2"/>
<path d="M287.6 263.6C291.0 263.7 294.4 263.8 297.7 264.0C301.0 264.2 304.4 264.4 307.7 264.7C311.0 265.0 314.3 265.4 317.6 265.8C320.9 266.2 324.2 266.6 327.5 267.2C330.8 267.7 334.0 268.2 337.3 268.9C340.5 269.5 343.8 270.2 347.0 270.9C350.2 271.6 353.4 272.4 356.6 273.3C359.8 274.1 362.9 275.0 366.1 275.9C369.3 276.9 372.4 277.9 375.5 278.9C378.7 279.9 381.8 281.0 384.9 282.2C387.9 283.3 391.0 284.5 394.1 285.7C397.1 287.0 400.2 288.2 403.2 289.6C406.2 290.9 409.2 292.3 412.2 293.7C415.2 295.1 418.1 296.6 421.1 298.1C424.0 299.6 426.9 301.1 429.8 302.7C432.7 304.3 435.6 305.9 438.4 307.6C441.3 309.3 444.1 311.0 446.9 312.8C449.7 314.5 452.5 316.4 455.3 318.2C458.0 320.0 460.8 321.9 463.5 323.8C466.2 325.8 468.9 327.7 471.6 329.7C474.2 331.7 476.9 333.7 479.5 335.8C482.1 337.9 484.7 340.0 487.2 342.1C489.8 344.3 492.3 346.5 494.8 348.7C497.3 350.9 499.8 353.1 502.3 355.4C504.7 357.7 507.1 360.0 509.5 362.4C511.9 364.7 514.3 367.1 516.6 369.5C519.0 371.9 521.3 374.3 523.5 376.8C525.8 379.3 528.0 381.8 530.3 384.3C532.5 386.9 534.7 389.4 536.8 392.0C538.9 394.6 541.1 397.2 543.1 399.8C545.2 402.5 547.3 405.2 549.3 407.9C551.3 410.5 553.3 413.3 555.2 416.0C557.2 418.8 559.1 421.5 561.0 424.3C562.9 427.1 564.7 429.9 566.5 432.8C568.3 435.6 570.1 438.5 571.8 441.4C573.6 444.2 575.3 447.2 576.9 450.1C578.6 453.0 580.2 456.0 581.8 458.9C583.4 461.9 584.9 464.9 586.4 467.9C587.9 470.9 589.4 473.9 590.8 476.9C592.3 480.0 593.7 483.0 595.0 486.1C596.4 489.2 597.7 492.3 598.9 495.4C600.2 498.5 601.4 501.6 602.6 504.7C603.8 507.9 604.9 511.0 606.0 514.2C607.1 517.3 608.2 520.5 609.2 523.7C610.2 526.9 611.2 530.1 612.1 533.3C613.0 536.5 613.9 539.7 614.7 542.9C615.6 546.2 616.4 549.4 617.1 552.6C617.9 555.9 618.6 559.1 619.2 562.4C619.9 565.7 620.5 568.9 621.0 572.2C621.6 575.5 622.1 578.8 622.5 582.1C623.0 585.3 623.4 588.6 623.8 591.9C624.1 595.2 624.5 598.5 624.7 601.8C625.0 605.1 625.2 608.5 625.3 611.7C625.4 615.0 625.5 618.3 625.4 621.6C625.4 624.9 625.3 628.2 625.1 631.4C624.9 634.7 624.6 638.0 624.2 641.2C623.8 644.4 623.3 647.6 622.7 650.8C622.0 654.0 621.3 657.2 620.4 660.3C619.6 663.4 618.6 666.5 617.5 669.6C616.3 672.7 615.1 675.7 613.6 678.7C612.2 681.7 610.6 684.7 608.9 687.6C607.2 690.5 605.3 693.4 603.3 696.2C601.3 699.0 599.2 701.8 596.9 704.4C594.7 707.0 592.3 709.6 589.8 712.0C587.3 714.5 584.7 716.8 582.0 719.0C579.4 721.2 576.6 723.3 573.8 725.2C570.9 727.1 568.0 728.9 565.0 730.4C562.1 732.0 559.0 733.4 555.9 734.7C552.9 735.9 549.7 736.9 546.6 737.7C543.4 738.6 540.2 739.2 537.0 739.6C533.8 740.1 530.5 740.4 527.3 740.5C524.1 740.6 520.8 740.5 517.5 740.3C514.3 740.1 511.0 739.7 507.8 739.2C504.5 738.7 501.3 738.1 498.1 737.3C494.8 736.6 491.6 735.7 488.5 734.7C485.3 733.7 482.2 732.6 479.1 731.4C476.0 730.2 472.9 728.9 469.9 727.5C466.9 726.1 463.9 724.6 461.0 723.1C458.1 721.5 455.2 719.8 452.3 718.1C449.5 716.4 446.7 714.6 443.9 712.7C441.1 710.8 438.4 708.9 435.7 706.9C433.0 704.9 430.3 702.8 427.7 700.7C425.1 698.5 422.5 696.3 419.9 694.1C417.4 691.9 414.9 689.6 412.4 687.3C410.0 685.0 407.5 682.6 405.1 680.2C402.7 677.8 400.4 675.4 398.1 672.9C395.8 670.4 393.5 668.0 391.2 665.4C389.0 662.9 386.8 660.4 384.6 657.9C382.5 655.3 380.3 652.8 378.3 650.2C376.2 647.6 374.1 645.0 372.1 642.4C370.1 639.8 368.1 637.2 366.1 634.5C364.2 631.9 362.3 629.2 360.4 626.5C358.5 623.8 356.7 621.1 354.8 618.4C353.0 615.6 351.3 612.9 349.5 610.1C347.8 607.3 346.0 604.5 344.3 601.7C342.7 598.9 341.0 596.1 339.4 593.2C337.7 590.4 336.1 587.5 334.6 584.6C333.0 581.7 331.5 578.8 330.0 575.8C328.4 572.9 327.0 569.9 325.5 566.9C324.1 563.9 322.6 560.9 321.2 557.8C319.8 554.8 318.4 551.7 317.1 548.7C315.7 545.6 314.4 542.5 313.1 539.3C311.8 536.2 310.5 533.0 309.3 529.8C308.0 526.6 306.8 523.4 305.6 520.2C304.4 516.9 303.2 513.7 302.0 510.4C300.8 507.1 299.7 503.8 298.5 500.6C297.3 497.3 296.1 494.1 294.8 490.9C293.5 487.7 292.2 484.5 290.8 481.5C289.4 478.4 288.0 475.4 286.5 472.5C284.9 469.6 283.3 466.8 281.5 464.1C279.8 461.5 277.9 458.9 275.9 456.5C273.9 454.1 271.7 451.9 269.4 449.8C267.1 447.7 264.6 445.8 262.0 444.0C259.5 442.2 256.7 440.6 253.9 439.0C251.1 437.5 248.2 436.0 245.2 434.6C242.2 433.3 239.1 432.0 236.0 430.7C232.9 429.5 229.7 428.3 226.4 427.1C223.2 425.9 220.0 424.8 216.7 423.6C213.4 422.5 210.1 421.3 206.9 420.1C203.6 418.9 200.3 417.7 197.1 416.5C193.9 415.2 190.7 413.9 187.6 412.5C184.5 411.0 181.4 409.6 178.4 408.0C175.4 406.3 172.5 404.7 169.8 402.8C167.0 401.0 164.4 399.1 161.9 397.0C159.4 394.9 157.1 392.7 155.0 390.3C152.9 387.9 151.0 385.4 149.3 382.6C147.6 379.9 146.2 377.0 145.0 373.9C143.8 370.9 142.8 367.7 142.1 364.4C141.5 361.2 141.0 357.8 140.9 354.4C140.7 351.1 140.8 347.7 141.2 344.4C141.5 341.1 142.2 337.8 143.1 334.7C144.0 331.5 145.2 328.5 146.6 325.5C148.1 322.6 149.7 319.8 151.6 317.0C153.4 314.3 155.5 311.7 157.7 309.2C159.9 306.7 162.3 304.3 164.8 302.0C167.3 299.7 169.9 297.5 172.6 295.5C175.3 293.4 178.2 291.5 181.0 289.6C183.9 287.8 186.8 286.1 189.7 284.4C192.7 282.8 195.7 281.3 198.8 279.9C201.8 278.5 204.9 277.2 208.1 276.0C211.2 274.8 214.4 273.7 217.6 272.7C220.8 271.7 224.0 270.8 227.3 270.0C230.6 269.1 233.9 268.4 237.2 267.8C240.5 267.1 243.8 266.5 247.2 266.0C250.5 265.5 253.9 265.1 257.3 264.8C260.6 264.5 264.0 264.2 267.4 264.0C270.8 263.8 274.1 263.7 277.5 263.6C280.9 263.6 284.3 263.6 287.6 263.6Z" fill="#f7a889"/>
<path d="M258.4 297.4C261.7 297.4 265.1 297.5 268.5 297.6C271.8 297.8 275.2 298.0 278.5 298.3C281.9 298.6 285.2 298.9 288.5 299.3C291.8 299.7 295.1 300.2 298.4 300.8C301.7 301.3 305.0 301.9 308.3 302.6C311.5 303.2 314.8 304.0 318.0 304.7C321.2 305.5 324.4 306.4 327.6 307.3C330.8 308.2 334.0 309.1 337.2 310.1C340.4 311.2 343.5 312.2 346.6 313.4C349.8 314.5 352.9 315.7 356.0 316.9C359.1 318.1 362.2 319.4 365.2 320.7C368.3 322.1 371.3 323.4 374.3 324.9C377.3 326.3 380.3 327.8 383.3 329.3C386.3 330.8 389.2 332.4 392.2 334.0C395.1 335.7 398.0 337.3 400.9 339.0C403.8 340.7 406.6 342.5 409.5 344.3C412.3 346.1 415.1 347.9 417.9 349.8C420.7 351.7 423.4 353.6 426.2 355.5C428.9 357.5 431.6 359.5 434.3 361.5C437.0 363.5 439.7 365.6 442.3 367.7C444.9 369.8 447.5 371.9 450.1 374.1C452.6 376.3 455.2 378.5 457.7 380.7C460.2 382.9 462.7 385.2 465.2 387.5C467.6 389.8 470.0 392.1 472.4 394.4C474.8 396.8 477.2 399.2 479.5 401.6C481.9 404.0 484.2 406.4 486.4 408.9C488.7 411.3 490.9 413.8 493.2 416.3C495.4 418.9 497.5 421.4 499.7 424.0C501.8 426.5 504.0 429.1 506.1 431.7C508.1 434.4 510.2 437.0 512.2 439.7C514.3 442.3 516.3 445.0 518.2 447.7C520.2 450.4 522.1 453.2 524.0 455.9C525.9 458.7 527.8 461.5 529.6 464.3C531.5 467.1 533.3 469.9 535.0 472.7C536.8 475.6 538.6 478.4 540.3 481.3C542.0 484.2 543.7 487.1 545.3 490.0C547.0 492.9 548.6 495.8 550.1 498.8C551.7 501.7 553.3 504.7 554.8 507.7C556.3 510.6 557.8 513.6 559.3 516.7C560.7 519.7 562.1 522.7 563.5 525.7C564.9 528.8 566.2 531.8 567.6 534.9C568.9 538.0 570.1 541.1 571.4 544.2C572.6 547.3 573.8 550.4 574.9 553.5C576.0 556.6 577.1 559.8 578.1 563.0C579.1 566.1 580.1 569.3 581.0 572.5C581.9 575.7 582.7 578.9 583.5 582.1C584.3 585.4 585.0 588.6 585.6 591.9C586.2 595.1 586.8 598.4 587.3 601.7C587.7 605.0 588.1 608.4 588.4 611.7C588.8 615.0 589.0 618.4 589.1 621.8C589.3 625.1 589.3 628.5 589.3 632.0C589.2 635.4 589.1 638.8 588.8 642.3C588.6 645.7 588.3 649.2 587.8 652.7C587.3 656.2 586.8 659.7 586.1 663.2C585.4 666.6 584.6 670.1 583.7 673.5C582.7 676.8 581.6 680.2 580.3 683.3C579.0 686.4 577.6 689.5 576.0 692.3C574.4 695.2 572.6 697.8 570.5 700.2C568.5 702.6 566.3 704.8 563.8 706.7C561.3 708.6 558.6 710.2 555.7 711.5C552.9 712.8 549.7 713.7 546.5 714.4C543.3 715.1 539.9 715.5 536.6 715.6C533.3 715.7 529.8 715.5 526.5 715.1C523.2 714.7 519.9 714.0 516.7 713.1C513.5 712.1 510.4 711.0 507.3 709.6C504.3 708.3 501.3 706.7 498.3 705.1C495.4 703.4 492.5 701.6 489.7 699.7C486.8 697.8 484.1 695.7 481.3 693.7C478.6 691.6 475.9 689.4 473.2 687.3C470.5 685.1 467.9 682.9 465.3 680.7C462.7 678.5 460.2 676.3 457.6 674.1C455.1 671.8 452.6 669.5 450.1 667.3C447.7 665.0 445.3 662.7 442.9 660.4C440.5 658.0 438.1 655.7 435.8 653.3C433.4 650.9 431.1 648.6 428.9 646.1C426.6 643.7 424.3 641.3 422.1 638.8C419.9 636.4 417.7 633.9 415.6 631.4C413.4 628.9 411.3 626.3 409.2 623.8C407.1 621.2 405.1 618.7 403.1 616.1C401.0 613.4 399.0 610.8 397.0 608.2C395.1 605.5 393.1 602.8 391.2 600.1C389.3 597.4 387.4 594.7 385.5 591.9C383.6 589.2 381.8 586.4 380.0 583.6C378.2 580.8 376.4 577.9 374.6 575.1C372.8 572.2 371.1 569.3 369.4 566.4C367.7 563.5 366.0 560.5 364.3 557.6C362.6 554.6 360.9 551.6 359.3 548.7C357.6 545.7 356.0 542.7 354.3 539.7C352.7 536.7 351.0 533.7 349.4 530.7C347.7 527.7 346.1 524.7 344.4 521.7C342.8 518.7 341.1 515.7 339.4 512.7C337.7 509.8 336.0 506.8 334.3 503.9C332.6 501.0 330.9 498.1 329.1 495.2C327.4 492.3 325.6 489.4 323.8 486.6C321.9 483.8 320.1 481.0 318.2 478.3C316.3 475.5 314.4 472.8 312.4 470.2C310.5 467.5 308.5 464.9 306.4 462.3C304.3 459.8 302.2 457.3 300.1 454.8C297.9 452.4 295.7 450.0 293.4 447.7C291.2 445.3 288.8 443.1 286.4 440.9C284.0 438.7 281.6 436.6 279.0 434.6C276.5 432.5 273.9 430.6 271.2 428.7C268.5 426.8 265.7 425.0 262.9 423.4C260.0 421.7 257.1 420.0 254.1 418.5C251.1 417.0 248.1 415.5 245.0 414.1C241.8 412.7 238.7 411.4 235.5 410.1C232.3 408.8 229.1 407.6 225.8 406.4C222.6 405.2 219.3 404.0 216.0 402.9C212.8 401.7 209.5 400.6 206.2 399.5C203.0 398.4 199.7 397.3 196.5 396.2C193.3 395.0 190.0 394.0 186.9 392.7C183.8 391.5 180.7 390.3 177.8 388.7C174.9 387.1 172.1 385.4 169.5 383.3C167.0 381.2 164.5 378.8 162.4 376.1C160.4 373.4 158.5 370.2 157.3 367.2C156.1 364.2 155.4 361.1 155.3 358.1C155.1 355.1 155.5 352.0 156.3 349.1C157.1 346.1 158.3 343.2 159.9 340.4C161.4 337.5 163.3 334.8 165.5 332.2C167.6 329.6 170.1 327.0 172.6 324.7C175.2 322.3 178.0 320.1 180.8 318.1C183.6 316.0 186.6 314.2 189.6 312.5C192.6 310.8 195.6 309.3 198.7 307.9C201.9 306.6 205.0 305.4 208.2 304.3C211.4 303.3 214.7 302.4 218.0 301.6C221.3 300.8 224.6 300.1 228.0 299.6C231.3 299.1 234.7 298.6 238.0 298.3C241.4 298.0 244.8 297.7 248.2 297.6C251.6 297.4 255.0 297.4 258.4 297.4Z" fill="#e26952"/>
<path d="M550.0 700.0C548.4 699.7 543.4 698.8 540.2 697.9C537.0 697.0 533.9 696.0 530.9 694.8C527.9 693.6 525.0 692.2 522.1 690.7C519.3 689.2 516.5 687.5 513.8 685.7C511.1 684.0 508.5 682.0 505.9 680.0C503.3 678.0 500.8 675.9 498.4 673.7C495.9 671.5 493.5 669.2 491.2 666.8C488.8 664.4 486.5 661.9 484.3 659.4C482.0 656.9 479.8 654.3 477.6 651.7C475.5 649.1 473.3 646.4 471.2 643.7C469.1 641.0 467.1 638.3 465.0 635.6C463.0 632.9 460.9 630.1 458.9 627.4C456.9 624.7 454.9 621.9 453.0 619.2C451.0 616.4 449.1 613.7 447.1 610.9C445.2 608.2 443.3 605.4 441.4 602.7C439.5 599.9 437.6 597.1 435.7 594.4C433.8 591.6 431.9 588.9 430.1 586.1C428.2 583.4 426.4 580.6 424.5 577.9C422.6 575.1 420.8 572.3 419.0 569.6C417.1 566.8 415.3 564.1 413.4 561.3C411.6 558.6 409.7 555.8 407.9 553.1C406.1 550.3 404.2 547.6 402.4 544.9C400.5 542.1 398.6 539.4 396.8 536.7C394.9 533.9 393.0 531.2 391.2 528.5C389.3 525.8 387.4 523.0 385.5 520.3C383.6 517.6 381.7 514.9 379.7 512.2C377.8 509.5 375.8 506.8 373.9 504.1C371.9 501.5 369.9 498.8 367.9 496.1C365.9 493.4 363.9 490.8 361.8 488.1C359.8 485.5 357.7 482.8 355.6 480.2C353.5 477.5 351.4 474.9 349.3 472.3C347.1 469.7 344.9 467.1 342.7 464.5C340.5 461.9 338.3 459.4 336.0 456.9C333.8 454.3 331.5 451.8 329.1 449.4C326.8 446.9 324.5 444.5 322.1 442.1C319.7 439.8 317.2 437.4 314.8 435.1C312.3 432.9 309.8 430.6 307.3 428.5C304.8 426.3 302.2 424.2 299.6 422.2C297.0 420.1 294.3 418.2 291.6 416.3C289.0 414.4 286.2 412.6 283.5 410.8C280.7 409.1 277.9 407.4 275.0 405.9C272.2 404.3 269.3 402.8 266.4 401.5C263.4 400.1 260.4 398.8 257.4 397.6C254.4 396.4 251.3 395.4 248.2 394.3C245.1 393.3 241.9 392.4 238.7 391.5C235.5 390.5 232.2 389.7 228.9 388.9C225.6 388.0 222.3 387.2 218.9 386.4C215.5 385.6 212.0 384.8 208.5 384.0C205.0 383.2 201.5 382.4 197.9 381.5C194.4 380.6 190.7 379.8 187.2 378.7C183.8 377.7 180.3 376.6 177.3 375.2C174.3 373.8 171.4 372.3 169.1 370.5C166.9 368.6 164.8 366.5 163.6 364.1C162.5 361.8 161.8 358.8 162.3 356.2C162.8 353.6 164.7 350.8 166.8 348.4C168.9 346.0 172.0 343.6 174.8 341.7C177.6 339.7 180.7 338.0 183.7 336.5C186.8 335.1 189.9 333.9 193.1 332.9C196.2 331.9 199.5 331.1 202.7 330.4C206.0 329.7 209.3 329.2 212.6 328.7C215.9 328.3 219.2 327.9 222.6 327.6C225.9 327.3 229.3 327.0 232.7 326.8C236.0 326.7 239.4 326.5 242.8 326.5C246.2 326.5 249.6 326.5 253.0 326.6C256.3 326.7 259.7 326.8 263.1 327.1C266.5 327.3 269.8 327.6 273.2 328.0C276.5 328.4 279.9 328.9 283.2 329.5C286.5 330.0 289.8 330.6 293.0 331.3C296.3 332.0 299.5 332.8 302.7 333.7C305.9 334.6 309.1 335.5 312.2 336.5C315.4 337.5 318.5 338.6 321.6 339.8C324.7 340.9 327.8 342.2 330.8 343.5C333.9 344.8 336.9 346.1 339.9 347.5C342.9 349.0 345.8 350.4 348.8 352.0C351.7 353.5 354.6 355.1 357.5 356.8C360.4 358.4 363.2 360.1 366.1 361.9C368.9 363.6 371.7 365.5 374.5 367.3C377.3 369.2 380.0 371.1 382.7 373.0C385.5 374.9 388.2 376.9 390.8 378.9C393.5 381.0 396.2 383.0 398.8 385.1C401.4 387.2 404.0 389.4 406.6 391.5C409.2 393.7 411.7 395.9 414.2 398.1C416.7 400.3 419.2 402.6 421.7 404.8C424.2 407.1 426.6 409.4 429.0 411.7C431.5 414.0 433.9 416.4 436.2 418.7C438.6 421.1 440.9 423.5 443.3 425.9C445.6 428.3 447.9 430.7 450.1 433.2C452.4 435.6 454.6 438.1 456.8 440.6C459.0 443.1 461.2 445.6 463.4 448.1C465.5 450.6 467.7 453.2 469.8 455.8C471.9 458.4 473.9 460.9 476.0 463.6C478.0 466.2 480.1 468.8 482.1 471.5C484.0 474.1 486.0 476.8 487.9 479.5C489.9 482.2 491.8 484.9 493.7 487.7C495.5 490.4 497.4 493.2 499.2 496.0C501.0 498.7 502.8 501.5 504.6 504.4C506.4 507.2 508.1 510.0 509.8 512.9C511.5 515.7 513.2 518.6 514.8 521.5C516.5 524.4 518.1 527.3 519.7 530.3C521.3 533.2 522.8 536.2 524.3 539.1C525.9 542.1 527.4 545.1 528.8 548.1C530.3 551.1 531.7 554.2 533.1 557.2C534.5 560.3 535.9 563.4 537.3 566.4C538.6 569.5 539.9 572.6 541.2 575.8C542.5 578.9 543.7 582.1 544.9 585.2C546.2 588.4 547.3 591.6 548.5 594.8C549.6 598.0 550.8 601.2 551.9 604.4C552.9 607.7 554.0 610.9 555.0 614.2C555.9 617.4 556.9 620.7 557.7 624.0C558.5 627.2 559.3 630.5 559.9 633.8C560.5 637.1 561.0 640.3 561.4 643.6C561.8 646.9 562.1 650.1 562.2 653.4C562.3 656.6 562.3 659.8 562.1 663.0C561.9 666.2 561.5 669.4 561.0 672.5C560.4 675.7 559.6 678.8 558.6 681.9C557.7 685.0 556.5 688.1 555.0 691.1C553.6 694.1 550.8 698.5 550.0 700.0Z" fill="#b40426"/>
</g>
<g fill="none" stroke="#8a2a66" stroke-width="0.8" opacity="0.75" clip-path="url(#pc)">
<path d="M44 41.5q-3 2 -1 5.5q2 3 6 3"/>
<path d="M47 40.5l3 2.5"/>
<path d="M845 183q5 -1 7 2q1 4 -3 4.5"/>
<path d="M832 223q3 -3 7 -1q4 3 1.5 7"/>
<path d="M896 357v5q0 2.5 3 2.5h3.5v-3"/>
<path d="M23 505q2 -3 5 -1"/>
<path d="M42 501q4 -2 6.5 1q2 3 -1 5.5"/>
<path d="M102 533l5 4.5M107 533l-2 -2"/>
<path d="M52 565q4 -3 7.5 0q2.500 4 -1 7v-5"/>
<path d="M20 598q3 -1.500 5 0.500"/>
<path d="M41 602v6M50 598v8q4 3 7 0v-7"/>
<path d="M62 600q3 4 7 3.500l5 -3"/>
<path d="M86 623h9M88 634h9"/>
<path d="M19 640q1 4 5 4"/>
<path d="M92 768h5l2 3M94 776l2 2"/>
<path d="M170 878.500h5M169.300 879.500v4.500l9.500 13h6M170 888.200l8.700 8.800M170 897.500h5M180.300 888.200l4.600 4.600M164.500 889v3.500l4.800 4.700"/>
<path d="M288 958q4 -1 7 1.500l2 2"/>
</g>
<g fill="none" stroke="#000" stroke-width="4.10" stroke-linejoin="round">
<path d="M249.0 30.0C247.4 30.5 242.6 31.9 239.3 32.9C236.1 33.9 232.9 34.9 229.7 36.0C226.5 37.0 223.3 38.2 220.2 39.3C217.0 40.5 213.8 41.7 210.7 42.9C207.5 44.2 204.4 45.5 201.2 46.8C198.1 48.1 195.0 49.5 191.9 50.9C188.8 52.3 185.7 53.7 182.6 55.2C179.6 56.7 176.5 58.2 173.5 59.8C170.5 61.4 167.5 63.0 164.5 64.6C161.5 66.3 158.5 68.0 155.6 69.7C152.6 71.4 149.7 73.2 146.8 75.0C143.9 76.8 141.0 78.6 138.2 80.5C135.3 82.4 132.5 84.3 129.7 86.3C126.9 88.2 124.2 90.2 121.4 92.2C118.7 94.3 116.0 96.3 113.3 98.4C110.7 100.6 108.0 102.7 105.4 104.9C102.8 107.1 100.2 109.3 97.7 111.5C95.2 113.8 92.7 116.1 90.2 118.4C87.7 120.7 85.3 123.1 82.9 125.5C80.5 127.9 78.2 130.4 75.9 132.8C73.6 135.3 71.3 137.8 69.1 140.4C66.9 142.9 64.7 145.5 62.5 148.1C60.4 150.7 58.3 153.4 56.3 156.0C54.2 158.7 52.2 161.4 50.3 164.2C48.3 167.0 46.4 169.7 44.6 172.6C42.7 175.4 40.9 178.2 39.2 181.1C37.4 184.0 35.7 187.0 34.1 189.9C32.4 192.9 30.8 195.9 29.3 198.9C27.8 201.9 26.3 205.0 24.8 208.1C23.4 211.2 22.1 214.3 20.7 217.4C19.4 220.6 17.6 225.4 17.0 227.0"/>
<path d="M486.0 29.5C487.6 30.0 492.3 31.6 495.4 32.6C498.6 33.7 501.7 34.8 504.8 36.0C507.9 37.1 511.0 38.3 514.1 39.5C517.2 40.7 520.3 41.9 523.4 43.2C526.5 44.4 529.5 45.7 532.6 47.0C535.7 48.3 538.7 49.7 541.7 51.0C544.8 52.4 547.8 53.8 550.8 55.2C553.8 56.6 556.8 58.1 559.8 59.6C562.8 61.0 565.8 62.5 568.8 64.1C571.7 65.6 574.7 67.2 577.6 68.7C580.5 70.3 583.5 71.9 586.4 73.6C589.3 75.2 592.2 76.9 595.1 78.5C598.0 80.2 600.9 81.9 603.7 83.7C606.6 85.4 609.4 87.2 612.2 89.0C615.1 90.8 617.9 92.6 620.7 94.4C623.5 96.2 626.3 98.1 629.1 100.0C631.8 101.9 634.6 103.8 637.3 105.7C640.1 107.6 642.8 109.6 645.5 111.6C648.2 113.6 650.9 115.6 653.6 117.6C656.3 119.6 658.9 121.7 661.6 123.7C664.2 125.8 666.8 127.9 669.5 130.0C672.1 132.1 674.7 134.3 677.2 136.4C679.8 138.6 682.4 140.7 684.9 142.9C687.4 145.1 690.0 147.4 692.5 149.6C695.0 151.9 697.4 154.1 699.9 156.4C702.4 158.7 704.8 161.0 707.3 163.3C709.7 165.6 712.1 168.0 714.5 170.4C716.9 172.7 719.2 175.1 721.6 177.5C723.9 179.9 726.3 182.3 728.6 184.8C730.9 187.2 733.2 189.7 735.4 192.2C737.7 194.7 739.9 197.2 742.2 199.7C744.4 202.2 746.6 204.7 748.8 207.3C750.9 209.8 753.1 212.4 755.2 215.0C757.4 217.6 759.5 220.2 761.6 222.8C763.7 225.4 765.7 228.1 767.8 230.7C769.8 233.4 771.9 236.1 773.9 238.8C775.9 241.4 777.8 244.1 779.8 246.9C781.7 249.6 783.7 252.3 785.6 255.1C787.5 257.8 789.4 260.6 791.2 263.4C793.1 266.2 794.9 269.0 796.7 271.8C798.5 274.6 800.3 277.4 802.0 280.3C803.8 283.1 805.5 286.0 807.2 288.9C808.9 291.7 810.6 294.6 812.3 297.5C813.9 300.4 815.5 303.3 817.1 306.3C818.7 309.2 820.3 312.1 821.9 315.1C823.4 318.0 824.9 321.0 826.4 324.0C827.9 327.0 829.4 330.0 830.8 333.0C832.2 336.0 833.6 339.0 835.0 342.0C836.4 345.0 837.7 348.1 839.1 351.1C840.4 354.2 841.7 357.2 842.9 360.3C844.2 363.4 845.4 366.5 846.7 369.6C847.9 372.7 849.0 375.8 850.2 378.9C851.3 382.0 852.4 385.1 853.5 388.3C854.6 391.4 855.6 394.5 856.7 397.7C857.7 400.9 858.7 404.0 859.6 407.2C860.6 410.4 861.5 413.6 862.3 416.8C863.2 420.0 864.1 423.2 864.9 426.4C865.7 429.6 866.5 432.8 867.2 436.1C867.9 439.3 868.6 442.6 869.3 445.8C869.9 449.1 870.6 452.3 871.1 455.6C871.7 458.9 872.3 462.2 872.8 465.5C873.3 468.8 873.7 472.1 874.2 475.4C874.6 478.7 875.0 482.0 875.3 485.3C875.6 488.7 875.9 492.0 876.2 495.3C876.5 498.7 876.7 502.0 876.9 505.4C877.1 508.7 877.2 512.1 877.3 515.4C877.4 518.8 877.5 522.2 877.5 525.5C877.6 528.9 877.6 532.3 877.5 535.6C877.5 539.0 877.4 542.4 877.3 545.8C877.2 549.1 877.0 552.5 876.9 555.9C876.7 559.2 876.5 562.6 876.2 566.0C876.0 569.3 875.7 572.7 875.4 576.1C875.1 579.4 874.8 582.8 874.4 586.2C874.0 589.5 873.6 592.9 873.2 596.2C872.8 599.5 872.3 602.9 871.8 606.2C871.3 609.6 870.8 612.9 870.2 616.2C869.6 619.5 869.1 622.8 868.4 626.1C867.8 629.4 867.1 632.7 866.5 636.0C865.8 639.3 865.0 642.6 864.3 645.9C863.5 649.1 862.7 652.4 861.9 655.6C861.1 658.9 860.2 662.1 859.4 665.3C858.5 668.6 857.5 671.8 856.6 675.0C855.6 678.2 854.6 681.4 853.6 684.5C852.6 687.7 851.5 690.9 850.4 694.0C849.4 697.2 848.2 700.3 847.1 703.4C845.9 706.5 844.7 709.6 843.5 712.7C842.3 715.8 841.0 718.9 839.7 721.9C838.4 725.0 837.1 728.0 835.7 731.0C834.3 734.1 832.9 737.1 831.5 740.0C830.0 743.0 828.6 746.0 827.1 748.9C825.5 751.9 824.0 754.8 822.4 757.7C820.8 760.6 819.2 763.5 817.6 766.3C815.9 769.2 814.2 772.0 812.5 774.9C810.8 777.7 809.0 780.5 807.2 783.2C805.4 786.0 803.5 788.8 801.7 791.5C799.8 794.2 797.9 796.9 795.9 799.6C794.0 802.3 792.0 804.9 790.0 807.5C788.0 810.2 785.9 812.8 783.8 815.3C781.7 817.9 779.6 820.5 777.4 823.0C775.2 825.5 773.0 828.0 770.7 830.4C768.5 832.9 766.2 835.3 763.9 837.7C761.6 840.1 759.2 842.5 756.8 844.9C754.4 847.2 752.0 849.5 749.5 851.8C747.1 854.1 744.6 856.3 742.1 858.6C739.6 860.8 737.0 863.0 734.4 865.1C731.8 867.3 729.2 869.4 726.6 871.5C724.0 873.6 721.3 875.7 718.6 877.7C715.9 879.7 713.2 881.7 710.4 883.7C707.7 885.6 704.9 887.6 702.1 889.4C699.3 891.3 696.4 893.2 693.6 895.0C690.7 896.8 687.9 898.6 685.0 900.3C682.1 902.1 679.1 903.8 676.2 905.5C673.3 907.1 670.3 908.8 667.3 910.3C664.3 911.9 661.3 913.5 658.3 915.0C655.3 916.5 652.2 918.0 649.2 919.4C646.1 920.9 643.0 922.3 639.9 923.6C636.8 925.0 633.7 926.3 630.6 927.6C627.5 928.8 624.3 930.1 621.2 931.2C618.0 932.4 614.8 933.6 611.7 934.7C608.5 935.8 605.3 936.8 602.1 937.9C598.9 938.9 595.6 939.8 592.4 940.8C589.2 941.7 586.0 942.6 582.7 943.4C579.5 944.3 576.2 945.0 572.9 945.8C569.7 946.5 566.4 947.2 563.1 947.9C559.8 948.5 556.6 949.1 553.3 949.7C550.0 950.3 546.7 950.8 543.4 951.2C540.1 951.7 536.8 952.1 533.5 952.5C530.2 952.8 526.8 953.1 523.5 953.4C520.2 953.7 516.9 953.9 513.6 954.0C510.3 954.2 507.0 954.3 503.6 954.4C500.3 954.5 497.0 954.5 493.7 954.5C490.4 954.4 487.1 954.4 483.8 954.3C480.5 954.1 477.1 954.0 473.8 953.8C470.5 953.5 467.2 953.3 463.9 953.0C460.6 952.7 457.3 952.3 454.1 951.9C450.8 951.5 447.5 951.1 444.2 950.6C440.9 950.1 437.7 949.6 434.4 949.0C431.1 948.4 427.9 947.8 424.6 947.1C421.4 946.4 418.2 945.7 414.9 945.0C411.7 944.2 408.5 943.4 405.3 942.5C402.1 941.7 398.9 940.8 395.7 939.9C392.5 938.9 389.3 937.9 386.1 936.9C383.0 935.9 379.8 934.8 376.7 933.7C373.5 932.6 370.4 931.5 367.3 930.3C364.2 929.1 361.1 927.8 358.0 926.5C354.9 925.3 351.9 923.9 348.8 922.6C345.8 921.2 342.8 919.8 339.7 918.4C336.7 916.9 333.7 915.4 330.7 913.9C327.8 912.4 324.8 910.8 321.9 909.2C318.9 907.6 316.0 905.9 313.1 904.2C310.2 902.5 307.3 900.8 304.5 899.0C301.6 897.3 298.8 895.5 296.0 893.6C293.1 891.8 290.4 889.9 287.6 887.9C284.8 886.0 282.1 884.0 279.4 882.0C276.6 880.0 273.9 878.0 271.3 875.9C268.6 873.8 266.0 871.7 263.3 869.6C260.7 867.4 258.1 865.2 255.6 863.0C253.0 860.8 250.5 858.5 248.0 856.3C245.5 854.0 243.0 851.6 240.6 849.3C238.1 846.9 235.7 844.6 233.3 842.1C231.0 839.7 228.6 837.3 226.3 834.8C224.0 832.3 221.7 829.8 219.5 827.3C217.2 824.8 215.0 822.2 212.8 819.6C210.7 817.0 208.5 814.4 206.4 811.7C204.3 809.1 202.2 806.4 200.2 803.7C198.2 801.0 196.2 798.3 194.2 795.6C192.3 792.8 190.4 790.0 188.5 787.2C186.6 784.5 184.8 781.6 183.0 778.8C181.2 776.0 179.4 773.1 177.7 770.2C176.0 767.3 174.3 764.4 172.7 761.5C171.1 758.6 169.5 755.6 168.0 752.6C166.4 749.7 165.0 746.7 163.5 743.7C162.1 740.7 160.7 737.7 159.3 734.6C158.0 731.6 156.7 728.5 155.4 725.5C154.1 722.4 152.9 719.3 151.8 716.2C150.6 713.1 149.5 710.0 148.5 706.9C147.4 703.7 146.4 700.6 145.4 697.4C144.5 694.3 143.6 691.1 142.7 687.9C141.9 684.7 141.1 681.5 140.3 678.3C139.6 675.1 138.9 671.9 138.3 668.7C137.6 665.5 137.0 662.3 136.5 659.0C136.0 655.8 135.5 652.5 135.1 649.3C134.7 646.0 134.4 642.7 134.1 639.5C133.8 636.2 133.6 632.9 133.4 629.7C133.2 626.4 133.1 623.1 133.0 619.8C133.0 616.5 133.0 613.2 133.1 609.9C133.1 606.6 133.3 603.3 133.5 600.0C133.7 596.7 133.9 593.4 134.3 590.1C134.6 586.8 135.0 583.5 135.4 580.2C135.9 576.9 136.4 573.6 137.0 570.3C137.6 567.0 138.2 563.7 139.0 560.4C139.7 557.1 140.5 553.8 141.3 550.5C142.2 547.2 143.1 543.9 144.1 540.6C145.1 537.4 146.2 534.1 147.4 530.8C148.5 527.5 150.4 522.6 151.0 521.0C149.3 520.7 144.0 520.0 140.7 519.3C137.3 518.7 134.0 517.8 130.8 516.9C127.5 516.0 124.4 514.9 121.3 513.7C118.2 512.5 115.1 511.2 112.2 509.8C109.2 508.4 106.3 506.9 103.4 505.3C100.6 503.7 97.8 502.0 95.0 500.2C92.3 498.4 89.6 496.5 87.0 494.6C84.3 492.6 81.8 490.6 79.2 488.4C76.7 486.3 74.2 484.1 71.8 481.8C69.4 479.6 67.0 477.3 64.7 474.9C62.3 472.5 60.1 470.0 57.8 467.6C55.6 465.1 53.4 462.5 51.2 460.0C49.0 457.4 46.9 454.8 44.8 452.1C42.8 449.5 40.7 446.8 38.7 444.1C36.7 441.4 34.7 438.6 32.8 435.9C30.8 433.2 28.9 430.4 27.0 427.6C25.1 424.9 23.3 422.1 21.4 419.3C19.6 416.5 16.9 412.4 16.0 411.0"/>
<path d="M217.0 482.5C215.2 482.8 209.9 484.0 206.3 484.6C202.8 485.1 199.3 485.5 195.8 485.7C192.4 485.9 188.9 486.0 185.5 485.9C182.1 485.8 178.7 485.6 175.4 485.2C172.0 484.8 168.7 484.3 165.5 483.7C162.2 483.0 159.0 482.3 155.8 481.4C152.7 480.5 149.5 479.4 146.5 478.3C143.4 477.1 140.4 475.9 137.4 474.5C134.4 473.1 131.5 471.6 128.6 470.0C125.8 468.4 123.0 466.7 120.3 464.9C117.5 463.1 114.9 461.2 112.3 459.2C109.7 457.2 107.1 455.1 104.7 452.9C102.2 450.8 99.8 448.5 97.5 446.2C95.2 443.8 93.0 441.4 90.8 438.9C88.6 436.5 86.6 433.9 84.6 431.3C82.6 428.7 80.7 426.0 78.9 423.2C77.0 420.5 75.3 417.7 73.7 414.8C72.0 412.0 70.5 409.0 69.0 406.1C67.6 403.1 66.2 400.1 64.9 397.1C63.7 394.1 62.5 391.0 61.4 387.9C60.3 384.7 59.3 381.6 58.4 378.4C57.5 375.2 56.7 372.0 56.0 368.8C55.2 365.5 54.6 362.3 54.1 359.0C53.5 355.7 53.1 352.4 52.7 349.1C52.3 345.8 52.1 342.5 51.9 339.1C51.7 335.8 51.6 332.5 51.6 329.1C51.6 325.8 51.7 322.4 51.8 319.1C52.0 315.8 52.3 312.4 52.6 309.1C53.0 305.8 53.4 302.4 53.9 299.1C54.4 295.8 55.0 292.5 55.7 289.2C56.4 286.0 57.2 282.7 58.1 279.5C59.0 276.2 59.9 273.0 61.0 269.8C62.0 266.7 63.2 263.5 64.4 260.4C65.6 257.3 66.9 254.2 68.2 251.1C69.6 248.1 71.0 245.1 72.6 242.1C74.1 239.1 75.7 236.1 77.3 233.2C79.0 230.3 80.7 227.4 82.5 224.6C84.3 221.7 86.1 218.9 88.0 216.2C90.0 213.4 91.9 210.7 94.0 208.0C96.0 205.3 98.1 202.7 100.2 200.1C102.4 197.5 104.6 195.0 106.8 192.5C109.1 190.0 111.3 187.6 113.7 185.2C116.0 182.8 118.4 180.5 120.8 178.2C123.2 175.9 125.7 173.6 128.2 171.5C130.7 169.3 133.3 167.1 135.8 165.0C138.4 162.9 141.0 160.9 143.7 158.9C146.4 156.9 149.1 155.0 151.8 153.1C154.5 151.2 157.3 149.4 160.1 147.6C162.9 145.8 165.7 144.0 168.6 142.4C171.4 140.7 174.3 139.0 177.2 137.4C180.2 135.8 183.1 134.3 186.1 132.8C189.1 131.3 192.1 129.8 195.1 128.4C198.1 127.0 201.2 125.7 204.3 124.4C207.3 123.1 210.4 121.8 213.6 120.6C216.7 119.4 219.8 118.2 223.0 117.1C226.2 116.0 229.3 114.9 232.5 113.9C235.7 112.9 239.0 111.9 242.2 110.9C245.4 110.0 248.7 109.1 251.9 108.3C255.2 107.5 258.5 106.7 261.8 105.9C265.1 105.2 268.4 104.5 271.7 103.8C275.0 103.2 278.3 102.6 281.6 102.0C284.9 101.4 288.3 100.9 291.6 100.5C295.0 100.0 298.3 99.6 301.7 99.2C305.0 98.8 308.4 98.5 311.7 98.2C315.1 97.9 318.4 97.6 321.8 97.4C325.2 97.2 328.5 97.1 331.9 97.0C335.2 96.8 338.6 96.8 342.0 96.7C345.3 96.7 348.7 96.7 352.0 96.8C355.4 96.9 358.7 97.0 362.0 97.1C365.4 97.2 368.7 97.4 372.0 97.7C375.4 97.9 378.7 98.2 382.0 98.5C385.3 98.8 388.6 99.2 391.9 99.6C395.2 100.0 398.5 100.4 401.8 100.9C405.1 101.4 408.4 101.9 411.7 102.4C414.9 103.0 418.2 103.6 421.5 104.2C424.7 104.9 428.0 105.6 431.2 106.3C434.4 107.0 437.7 107.7 440.9 108.5C444.1 109.3 447.3 110.2 450.5 111.0C453.7 111.9 456.9 112.8 460.1 113.8C463.3 114.7 466.5 115.7 469.6 116.7C472.8 117.7 475.9 118.8 479.1 119.9C482.2 121.0 485.3 122.1 488.4 123.3C491.6 124.4 494.7 125.6 497.7 126.9C500.8 128.1 503.9 129.4 507.0 130.7C510.0 132.0 513.1 133.3 516.1 134.7C519.1 136.1 522.2 137.5 525.2 138.9C528.2 140.4 531.2 141.8 534.1 143.3C537.1 144.8 540.1 146.4 543.0 147.9C545.9 149.5 548.9 151.1 551.8 152.8C554.7 154.4 557.6 156.1 560.5 157.8C563.3 159.4 566.2 161.2 569.0 162.9C571.9 164.7 574.7 166.5 577.5 168.3C580.3 170.1 583.1 172.0 585.9 173.9C588.6 175.7 591.4 177.6 594.1 179.6C596.9 181.5 599.6 183.5 602.3 185.5C605.0 187.5 607.6 189.5 610.3 191.6C612.9 193.6 615.6 195.7 618.2 197.8C620.8 199.9 623.4 202.0 625.9 204.2C628.5 206.3 631.1 208.5 633.6 210.7C636.1 213.0 638.6 215.2 641.1 217.5C643.6 219.7 646.0 222.0 648.4 224.3C650.9 226.7 653.3 229.0 655.7 231.4C658.1 233.7 660.4 236.1 662.8 238.5C665.1 240.9 667.4 243.4 669.7 245.8C672.0 248.3 674.2 250.8 676.5 253.3C678.7 255.8 680.9 258.3 683.1 260.9C685.3 263.4 687.4 266.0 689.6 268.6C691.7 271.2 693.8 273.8 695.9 276.5C698.0 279.1 700.0 281.8 702.0 284.4C704.0 287.1 706.0 289.8 708.0 292.5C710.0 295.3 711.9 298.0 713.8 300.8C715.7 303.5 717.6 306.3 719.4 309.1C721.3 311.9 723.1 314.7 724.9 317.6C726.7 320.4 728.5 323.2 730.2 326.1C731.9 329.0 733.6 331.9 735.3 334.8C736.9 337.7 738.6 340.6 740.2 343.5C741.8 346.5 743.4 349.4 744.9 352.4C746.5 355.4 748.0 358.3 749.4 361.3C750.9 364.3 752.4 367.4 753.8 370.4C755.2 373.4 756.6 376.4 757.9 379.5C759.3 382.6 760.6 385.6 761.9 388.7C763.1 391.8 764.4 394.9 765.6 398.0C766.8 401.1 768.0 404.2 769.1 407.3C770.3 410.5 771.4 413.6 772.5 416.8C773.5 419.9 774.6 423.1 775.6 426.2C776.6 429.4 777.5 432.6 778.5 435.8C779.4 439.0 780.3 442.2 781.1 445.4C782.0 448.6 782.8 451.8 783.6 455.0C784.4 458.3 785.1 461.5 785.8 464.7C786.6 468.0 787.2 471.2 787.9 474.5C788.5 477.7 789.1 481.0 789.6 484.3C790.2 487.5 790.7 490.8 791.2 494.1C791.7 497.4 792.1 500.7 792.5 503.9C792.9 507.2 793.3 510.5 793.6 513.8C793.9 517.1 794.2 520.4 794.4 523.7C794.7 527.0 794.9 530.4 795.0 533.7C795.2 537.0 795.3 540.3 795.4 543.6C795.4 546.9 795.5 550.3 795.5 553.6C795.4 556.9 795.4 560.2 795.3 563.6C795.2 566.9 795.1 570.2 794.9 573.5C794.7 576.9 794.5 580.2 794.2 583.5C794.0 586.8 793.7 590.2 793.3 593.5C792.9 596.8 792.5 600.1 792.1 603.5C791.7 606.8 791.2 610.1 790.6 613.4C790.1 616.7 789.5 620.0 788.9 623.3C788.3 626.6 787.6 629.9 786.9 633.2C786.2 636.5 785.5 639.8 784.7 643.1C783.9 646.3 783.1 649.6 782.2 652.8C781.3 656.1 780.4 659.3 779.4 662.5C778.4 665.7 777.4 669.0 776.3 672.1C775.3 675.3 774.1 678.5 773.0 681.7C771.8 684.8 770.6 688.0 769.4 691.1C768.1 694.2 766.9 697.3 765.5 700.4C764.2 703.5 762.8 706.5 761.4 709.6C760.0 712.6 758.5 715.6 757.0 718.6C755.4 721.6 753.9 724.6 752.3 727.5C750.7 730.5 749.0 733.4 747.3 736.3C745.6 739.2 743.9 742.0 742.1 744.9C740.3 747.7 738.4 750.5 736.6 753.3C734.7 756.0 732.8 758.8 730.8 761.5C728.8 764.2 726.8 766.9 724.7 769.5C722.6 772.1 720.5 774.7 718.4 777.3C716.2 779.9 714.0 782.4 711.8 784.9C709.5 787.4 707.2 789.8 704.9 792.2C702.6 794.7 700.2 797.0 697.8 799.4C695.4 801.7 692.9 804.0 690.4 806.3C688.0 808.5 685.4 810.7 682.9 812.9C680.3 815.0 677.7 817.2 675.1 819.2C672.5 821.3 669.8 823.4 667.1 825.3C664.4 827.3 661.7 829.3 658.9 831.1C656.1 833.0 653.3 834.9 650.5 836.7C647.7 838.5 644.8 840.2 642.0 841.9C639.1 843.6 636.2 845.2 633.2 846.8C630.3 848.4 627.3 849.9 624.3 851.4C621.4 852.9 618.3 854.3 615.3 855.7C612.3 857.1 609.2 858.4 606.1 859.6C603.1 860.9 600.0 862.1 596.8 863.2C593.7 864.4 590.6 865.5 587.4 866.5C584.3 867.5 581.1 868.5 577.9 869.4C574.7 870.3 571.5 871.1 568.3 871.9C565.1 872.7 561.8 873.4 558.6 874.1C555.3 874.7 552.1 875.3 548.8 875.9C545.5 876.4 542.2 876.9 538.9 877.3C535.6 877.8 532.3 878.1 529.0 878.4C525.7 878.7 522.4 879.0 519.1 879.2C515.8 879.4 512.4 879.5 509.1 879.6C505.8 879.7 502.5 879.7 499.1 879.7C495.8 879.7 492.5 879.6 489.1 879.4C485.8 879.3 482.5 879.1 479.2 878.8C475.8 878.6 472.5 878.2 469.2 877.9C465.9 877.5 462.6 877.1 459.3 876.6C456.0 876.1 452.7 875.6 449.4 875.0C446.1 874.4 442.8 873.8 439.5 873.1C436.3 872.4 433.0 871.6 429.7 870.8C426.5 870.0 423.3 869.2 420.0 868.3C416.8 867.3 413.6 866.4 410.4 865.4C407.2 864.4 404.1 863.3 400.9 862.2C397.8 861.0 394.6 859.9 391.5 858.6C388.4 857.4 385.3 856.1 382.2 854.8C379.2 853.5 376.1 852.1 373.1 850.7C370.1 849.2 367.1 847.7 364.1 846.2C361.1 844.7 358.1 843.1 355.2 841.5C352.3 839.8 349.4 838.2 346.5 836.4C343.7 834.7 340.8 832.9 338.0 831.1C335.2 829.3 332.4 827.4 329.7 825.5C326.9 823.6 324.2 821.6 321.5 819.6C318.8 817.6 316.1 815.6 313.5 813.5C310.9 811.4 308.3 809.3 305.7 807.1C303.2 805.0 300.6 802.8 298.1 800.5C295.7 798.3 293.2 796.0 290.8 793.7C288.3 791.3 286.0 789.0 283.6 786.6C281.3 784.2 279.0 781.7 276.7 779.2C274.4 776.8 272.2 774.3 270.0 771.7C267.8 769.2 265.6 766.6 263.5 764.0C261.4 761.4 259.3 758.7 257.3 756.0C255.3 753.4 253.3 750.7 251.3 747.9C249.4 745.2 247.5 742.4 245.6 739.6C243.8 736.8 241.9 734.0 240.2 731.1C238.4 728.3 236.7 725.4 235.0 722.5C233.3 719.5 231.7 716.6 230.1 713.6C228.5 710.7 227.0 707.7 225.5 704.7C224.0 701.7 222.6 698.6 221.2 695.6C219.8 692.5 218.5 689.4 217.2 686.3C215.9 683.3 214.7 680.1 213.5 677.0C212.4 673.9 211.2 670.7 210.2 667.6C209.1 664.4 208.1 661.2 207.1 658.0C206.2 654.8 205.3 651.6 204.4 648.4C203.6 645.2 202.8 641.9 202.0 638.7C201.3 635.5 200.6 632.2 200.0 628.9C199.4 625.7 198.9 622.4 198.4 619.1C197.9 615.8 197.5 612.6 197.1 609.3C196.7 606.0 196.4 602.7 196.2 599.4C195.9 596.1 195.7 592.8 195.6 589.5C195.5 586.2 195.5 582.9 195.5 579.6C195.5 576.3 195.6 573.0 195.7 569.7C195.9 566.4 196.1 563.1 196.4 559.8C196.7 556.5 197.0 553.2 197.4 549.9C197.9 546.7 198.3 543.4 198.9 540.1C199.5 536.8 200.1 533.6 200.8 530.3C201.5 527.1 202.3 523.8 203.2 520.6C204.0 517.4 204.9 514.2 205.9 511.0C206.9 507.7 208.0 504.6 209.2 501.4C210.3 498.2 211.5 495.0 212.8 491.9C214.2 488.7 216.3 484.1 217.0 482.5Z"/>
<path d="M247.5 461.0C245.9 461.0 241.3 461.2 238.1 461.3C235.0 461.3 231.8 461.3 228.5 461.3C225.3 461.3 222.0 461.2 218.7 461.0C215.4 460.9 212.0 460.7 208.7 460.4C205.4 460.0 202.0 459.7 198.7 459.2C195.3 458.7 192.0 458.1 188.7 457.4C185.4 456.7 182.1 455.9 178.8 455.0C175.5 454.0 172.3 453.0 169.1 451.8C165.9 450.6 162.7 449.3 159.6 447.9C156.5 446.4 153.5 444.9 150.5 443.3C147.5 441.6 144.6 439.9 141.8 438.0C139.0 436.1 136.2 434.2 133.6 432.1C130.9 430.1 128.3 427.9 125.9 425.7C123.4 423.4 121.0 421.1 118.8 418.7C116.6 416.3 114.4 413.8 112.4 411.2C110.5 408.6 108.6 405.9 106.9 403.2C105.1 400.5 103.5 397.7 102.1 394.8C100.7 392.0 99.4 389.0 98.2 386.0C97.1 383.1 96.1 380.0 95.2 376.9C94.3 373.9 93.6 370.7 92.9 367.5C92.3 364.4 91.8 361.2 91.5 357.9C91.1 354.7 90.9 351.4 90.8 348.2C90.7 344.9 90.7 341.6 90.8 338.3C91.0 335.0 91.2 331.6 91.6 328.3C92.0 325.0 92.5 321.7 93.0 318.4C93.6 315.1 94.3 311.8 95.1 308.5C96.0 305.2 96.9 301.9 97.9 298.7C98.9 295.4 100.0 292.2 101.2 289.0C102.4 285.8 103.7 282.7 105.1 279.6C106.5 276.5 108.0 273.4 109.6 270.4C111.2 267.4 112.9 264.4 114.6 261.5C116.4 258.6 118.2 255.8 120.2 253.1C122.1 250.3 124.1 247.6 126.2 245.0C128.2 242.4 130.4 239.8 132.6 237.4C134.8 234.9 137.1 232.5 139.5 230.2C141.8 227.8 144.3 225.6 146.7 223.4C149.2 221.2 151.8 219.1 154.4 217.0C157.0 215.0 159.7 213.0 162.4 211.1C165.1 209.2 167.8 207.3 170.7 205.5C173.5 203.7 176.3 202.0 179.2 200.4C182.1 198.7 185.1 197.1 188.1 195.6C191.0 194.0 194.1 192.6 197.1 191.1C200.2 189.7 203.3 188.4 206.4 187.1C209.5 185.8 212.6 184.6 215.8 183.4C219.0 182.2 222.1 181.1 225.4 180.0C228.6 179.0 231.8 178.0 235.0 177.0C238.3 176.0 241.5 175.1 244.8 174.3C248.1 173.5 251.4 172.7 254.6 171.9C257.9 171.2 261.2 170.5 264.5 169.9C267.8 169.2 271.1 168.6 274.4 168.1C277.7 167.6 281.0 167.1 284.3 166.7C287.6 166.2 291.0 165.8 294.3 165.5C297.6 165.2 300.9 164.9 304.2 164.7C307.6 164.4 310.9 164.2 314.2 164.1C317.5 164.0 320.9 163.9 324.2 163.8C327.5 163.8 330.8 163.8 334.2 163.9C337.5 163.9 340.8 164.0 344.1 164.2C347.4 164.3 350.8 164.5 354.1 164.8C357.4 165.0 360.7 165.3 364.0 165.6C367.3 166.0 370.6 166.3 373.9 166.8C377.2 167.2 380.5 167.7 383.7 168.2C387.0 168.7 390.3 169.3 393.6 169.9C396.8 170.5 400.1 171.1 403.3 171.8C406.6 172.5 409.8 173.2 413.0 174.0C416.3 174.8 419.5 175.6 422.7 176.5C425.9 177.3 429.1 178.2 432.3 179.2C435.5 180.1 438.6 181.1 441.8 182.1C444.9 183.1 448.1 184.2 451.2 185.3C454.4 186.4 457.5 187.6 460.6 188.8C463.7 189.9 466.8 191.2 469.9 192.4C472.9 193.7 476.0 195.0 479.1 196.4C482.1 197.7 485.1 199.1 488.1 200.5C491.2 201.9 494.2 203.4 497.1 204.9C500.1 206.3 503.1 207.9 506.0 209.4C509.0 211.0 511.9 212.6 514.8 214.2C517.7 215.9 520.6 217.5 523.5 219.2C526.4 220.9 529.2 222.7 532.0 224.5C534.9 226.2 537.7 228.0 540.5 229.9C543.3 231.7 546.0 233.6 548.8 235.5C551.5 237.4 554.3 239.4 557.0 241.3C559.7 243.3 562.3 245.3 565.0 247.3C567.6 249.4 570.3 251.4 572.9 253.5C575.5 255.6 578.1 257.8 580.6 259.9C583.2 262.1 585.7 264.3 588.2 266.5C590.7 268.7 593.2 270.9 595.7 273.2C598.1 275.5 600.6 277.8 603.0 280.1C605.4 282.5 607.7 284.8 610.1 287.2C612.4 289.6 614.8 292.0 617.0 294.4C619.3 296.9 621.6 299.4 623.8 301.8C626.1 304.3 628.3 306.9 630.4 309.4C632.6 311.9 634.7 314.5 636.8 317.1C638.9 319.7 641.0 322.3 643.1 325.0C645.1 327.6 647.1 330.3 649.1 333.0C651.1 335.7 653.0 338.4 654.9 341.1C656.9 343.8 658.7 346.6 660.6 349.4C662.4 352.2 664.2 355.0 666.0 357.8C667.8 360.6 669.5 363.5 671.2 366.3C672.9 369.2 674.6 372.1 676.2 375.0C677.9 377.9 679.5 380.8 681.0 383.8C682.6 386.7 684.1 389.7 685.6 392.6C687.1 395.6 688.5 398.6 689.9 401.6C691.3 404.7 692.7 407.7 694.1 410.7C695.4 413.8 696.7 416.9 697.9 419.9C699.2 423.0 700.4 426.1 701.6 429.2C702.8 432.3 703.9 435.5 705.0 438.6C706.1 441.7 707.2 444.9 708.2 448.1C709.2 451.2 710.2 454.4 711.2 457.6C712.1 460.8 713.0 464.0 713.9 467.2C714.7 470.4 715.6 473.6 716.4 476.9C717.1 480.1 717.9 483.4 718.6 486.6C719.3 489.9 719.9 493.1 720.6 496.4C721.2 499.7 721.7 503.0 722.3 506.2C722.8 509.5 723.3 512.8 723.7 516.1C724.2 519.4 724.6 522.7 725.0 526.1C725.3 529.4 725.6 532.7 725.9 536.0C726.2 539.3 726.4 542.7 726.6 546.0C726.8 549.3 726.9 552.7 727.0 556.0C727.1 559.4 727.2 562.7 727.2 566.1C727.2 569.4 727.2 572.8 727.1 576.1C727.0 579.4 726.9 582.8 726.7 586.1C726.5 589.5 726.3 592.8 726.0 596.2C725.7 599.5 725.4 602.8 725.1 606.1C724.7 609.5 724.3 612.8 723.8 616.1C723.3 619.4 722.8 622.7 722.2 626.0C721.6 629.3 721.0 632.6 720.3 635.8C719.6 639.1 718.9 642.4 718.1 645.6C717.3 648.8 716.5 652.1 715.6 655.3C714.7 658.5 713.8 661.7 712.8 664.9C711.7 668.1 710.7 671.2 709.6 674.4C708.4 677.5 707.3 680.6 706.0 683.7C704.8 686.8 703.5 689.9 702.2 693.0C700.8 696.0 699.4 699.0 697.9 702.0C696.5 705.0 694.9 708.0 693.4 710.9C691.8 713.9 690.1 716.8 688.4 719.6C686.7 722.5 685.0 725.3 683.1 728.1C681.3 730.9 679.4 733.6 677.5 736.3C675.5 739.0 673.5 741.7 671.5 744.3C669.4 746.9 667.3 749.5 665.1 752.0C662.9 754.5 660.6 756.9 658.3 759.3C656.0 761.7 653.6 764.0 651.2 766.3C648.8 768.5 646.3 770.8 643.7 772.9C641.1 775.0 638.5 777.1 635.8 779.1C633.2 781.1 630.4 783.1 627.7 785.0C624.9 786.8 622.0 788.7 619.2 790.4C616.3 792.1 613.4 793.8 610.4 795.4C607.4 797.0 604.4 798.6 601.4 800.0C598.4 801.5 595.3 802.9 592.2 804.2C589.1 805.5 586.0 806.7 582.8 807.9C579.7 809.1 576.5 810.1 573.3 811.2C570.1 812.2 566.9 813.1 563.6 814.0C560.4 814.8 557.1 815.6 553.9 816.3C550.6 817.0 547.3 817.6 544.1 818.1C540.8 818.7 537.5 819.1 534.2 819.5C530.9 819.9 527.6 820.2 524.3 820.4C521.1 820.6 517.8 820.7 514.5 820.7C511.2 820.8 507.9 820.8 504.6 820.7C501.3 820.6 498.1 820.4 494.8 820.1C491.5 819.9 488.2 819.5 485.0 819.1C481.7 818.7 478.5 818.3 475.2 817.7C472.0 817.2 468.7 816.6 465.5 815.9C462.3 815.2 459.1 814.4 455.9 813.6C452.7 812.8 449.5 811.9 446.3 811.0C443.1 810.0 440.0 809.0 436.9 807.9C433.7 806.9 430.6 805.7 427.5 804.5C424.4 803.3 421.3 802.0 418.2 800.7C415.2 799.4 412.1 798.0 409.1 796.6C406.1 795.1 403.1 793.6 400.1 792.1C397.1 790.5 394.2 788.9 391.2 787.3C388.3 785.6 385.4 783.9 382.5 782.1C379.7 780.3 376.8 778.5 374.0 776.6C371.2 774.8 368.4 772.9 365.7 770.9C362.9 768.9 360.2 766.9 357.5 764.8C354.8 762.8 352.2 760.7 349.5 758.5C346.9 756.4 344.3 754.2 341.8 751.9C339.3 749.7 336.8 747.4 334.3 745.1C331.8 742.7 329.4 740.4 327.0 738.0C324.6 735.6 322.3 733.1 320.0 730.6C317.7 728.2 315.4 725.6 313.2 723.1C311.0 720.5 308.8 718.0 306.7 715.3C304.6 712.7 302.5 710.1 300.5 707.4C298.5 704.7 296.5 702.0 294.6 699.2C292.7 696.5 290.8 693.7 289.0 690.9C287.1 688.1 285.4 685.3 283.7 682.4C281.9 679.6 280.3 676.7 278.7 673.8C277.0 670.8 275.5 667.9 274.0 665.0C272.5 662.0 271.0 659.0 269.6 656.0C268.2 653.0 266.8 650.0 265.5 646.9C264.2 643.9 263.0 640.8 261.8 637.7C260.6 634.6 259.4 631.5 258.3 628.4C257.2 625.3 256.2 622.2 255.2 619.0C254.2 615.8 253.3 612.7 252.4 609.5C251.5 606.3 250.6 603.1 249.9 599.9C249.1 596.7 248.3 593.4 247.7 590.2C247.0 586.9 246.3 583.7 245.8 580.4C245.2 577.2 244.7 573.9 244.2 570.6C243.7 567.3 243.3 564.0 242.9 560.7C242.6 557.4 242.2 554.1 242.0 550.8C241.7 547.5 241.5 544.2 241.3 540.9C241.2 537.5 241.1 534.2 241.0 530.9C240.9 527.5 240.9 524.2 241.0 520.9C241.0 517.5 241.1 514.2 241.3 510.9C241.4 507.5 241.6 504.2 241.9 500.9C242.2 497.5 242.5 494.2 242.8 490.9C243.2 487.5 243.6 484.2 244.1 480.9C244.5 477.6 245.1 474.2 245.6 470.9C246.2 467.6 247.2 462.7 247.5 461.0Z"/>
<path d="M299.9 218.1C303.3 218.0 306.7 218.0 310.1 218.0C313.5 218.1 316.8 218.2 320.2 218.3C323.6 218.4 327.0 218.6 330.3 218.9C333.7 219.1 337.0 219.4 340.4 219.8C343.7 220.1 347.1 220.5 350.4 221.0C353.7 221.5 357.1 222.0 360.4 222.6C363.7 223.1 367.0 223.7 370.3 224.4C373.6 225.1 376.9 225.8 380.2 226.5C383.5 227.3 386.7 228.1 390.0 229.0C393.2 229.8 396.5 230.8 399.7 231.7C402.9 232.7 406.1 233.7 409.3 234.7C412.5 235.8 415.7 236.9 418.9 238.0C422.0 239.1 425.2 240.3 428.3 241.6C431.4 242.8 434.6 244.1 437.6 245.4C440.7 246.7 443.8 248.1 446.9 249.5C449.9 250.9 452.9 252.3 456.0 253.8C459.0 255.3 462.0 256.8 464.9 258.3C467.9 259.9 470.8 261.5 473.7 263.1C476.7 264.8 479.5 266.5 482.4 268.2C485.3 269.9 488.1 271.7 490.9 273.4C493.7 275.2 496.5 277.1 499.3 278.9C502.1 280.8 504.8 282.7 507.5 284.6C510.2 286.6 512.9 288.5 515.5 290.5C518.2 292.5 520.8 294.6 523.4 296.6C526.0 298.7 528.5 300.8 531.0 303.0C533.6 305.1 536.1 307.3 538.6 309.5C541.0 311.7 543.5 313.9 545.9 316.2C548.3 318.4 550.7 320.7 553.1 323.1C555.4 325.4 557.7 327.7 560.0 330.1C562.3 332.5 564.6 334.9 566.8 337.4C569.1 339.8 571.3 342.3 573.5 344.8C575.6 347.3 577.8 349.9 579.9 352.4C582.0 355.0 584.1 357.6 586.2 360.2C588.2 362.8 590.2 365.5 592.2 368.1C594.2 370.8 596.2 373.5 598.1 376.2C600.1 379.0 602.0 381.7 603.8 384.5C605.7 387.3 607.5 390.1 609.3 392.9C611.1 395.7 612.9 398.6 614.7 401.5C616.4 404.3 618.1 407.2 619.8 410.2C621.5 413.1 623.1 416.0 624.7 419.0C626.3 422.0 627.9 424.9 629.4 427.9C631.0 431.0 632.5 434.0 633.9 437.0C635.4 440.1 636.8 443.1 638.2 446.2C639.6 449.3 640.9 452.4 642.2 455.5C643.5 458.6 644.8 461.8 646.0 464.9C647.3 468.0 648.5 471.2 649.6 474.4C650.7 477.6 651.9 480.7 652.9 483.9C654.0 487.1 655.0 490.4 656.0 493.6C656.9 496.8 657.9 500.0 658.7 503.3C659.6 506.5 660.4 509.8 661.2 513.0C662.0 516.3 662.8 519.6 663.5 522.9C664.1 526.1 664.8 529.4 665.4 532.7C666.0 536.0 666.5 539.3 667.0 542.6C667.5 545.9 667.9 549.2 668.3 552.5C668.7 555.8 669.1 559.2 669.3 562.5C669.6 565.8 669.9 569.1 670.0 572.4C670.2 575.8 670.3 579.1 670.4 582.4C670.5 585.7 670.5 589.0 670.4 592.4C670.4 595.7 670.3 599.0 670.1 602.3C670.0 605.6 669.7 608.9 669.5 612.3C669.2 615.6 668.9 618.9 668.5 622.2C668.1 625.5 667.6 628.8 667.1 632.0C666.5 635.3 666.0 638.6 665.3 641.9C664.7 645.2 664.0 648.4 663.2 651.7C662.4 654.9 661.6 658.2 660.7 661.4C659.8 664.7 658.8 667.9 657.7 671.1C656.7 674.3 655.6 677.5 654.4 680.6C653.2 683.8 651.9 686.9 650.6 690.0C649.2 693.0 647.8 696.1 646.3 699.0C644.8 702.0 643.1 705.0 641.4 707.8C639.7 710.7 637.9 713.5 636.1 716.2C634.2 719.0 632.2 721.6 630.1 724.2C628.0 726.8 625.8 729.3 623.5 731.7C621.1 734.1 618.7 736.4 616.2 738.7C613.7 740.9 611.1 743.0 608.4 745.1C605.7 747.1 603.0 749.1 600.1 750.9C597.3 752.8 594.4 754.5 591.4 756.2C588.4 757.8 585.4 759.4 582.3 760.9C579.3 762.3 576.1 763.7 573.0 764.9C569.8 766.2 566.6 767.4 563.4 768.4C560.1 769.5 556.9 770.4 553.6 771.3C550.3 772.1 547.0 772.8 543.8 773.5C540.5 774.1 537.2 774.6 533.9 775.0C530.6 775.4 527.3 775.7 524.0 775.9C520.7 776.1 517.5 776.2 514.2 776.2C510.9 776.2 507.7 776.1 504.4 775.9C501.1 775.7 497.9 775.4 494.7 775.0C491.4 774.6 488.2 774.1 485.0 773.5C481.8 773.0 478.6 772.3 475.4 771.5C472.2 770.8 469.0 769.9 465.9 769.0C462.7 768.1 459.6 767.1 456.5 766.0C453.4 764.9 450.3 763.8 447.2 762.5C444.1 761.3 441.1 759.9 438.1 758.6C435.0 757.2 432.0 755.7 429.0 754.2C426.1 752.6 423.1 751.0 420.2 749.4C417.3 747.7 414.4 746.0 411.5 744.2C408.6 742.4 405.8 740.5 403.0 738.6C400.2 736.7 397.4 734.7 394.7 732.7C392.0 730.6 389.3 728.5 386.6 726.4C383.9 724.3 381.3 722.1 378.7 719.8C376.1 717.6 373.6 715.3 371.1 713.0C368.6 710.6 366.1 708.3 363.7 705.8C361.3 703.4 358.9 701.0 356.5 698.5C354.2 696.0 351.9 693.4 349.7 690.9C347.4 688.3 345.2 685.7 343.1 683.1C340.9 680.4 338.9 677.8 336.8 675.1C334.8 672.4 332.8 669.6 330.8 666.9C328.9 664.2 327.0 661.4 325.2 658.6C323.3 655.8 321.6 653.0 319.8 650.2C318.1 647.3 316.5 644.5 314.8 641.6C313.2 638.7 311.6 635.8 310.1 632.9C308.6 630.0 307.1 627.0 305.7 624.1C304.3 621.1 302.9 618.1 301.6 615.1C300.2 612.1 299.0 609.1 297.7 606.0C296.5 603.0 295.3 599.9 294.1 596.8C293.0 593.8 291.9 590.7 290.8 587.5C289.7 584.4 288.7 581.3 287.7 578.1C286.7 575.0 285.8 571.8 284.9 568.6C284.0 565.4 283.1 562.2 282.3 559.0C281.5 555.7 280.7 552.5 279.9 549.2C279.1 546.0 278.4 542.7 277.7 539.4C277.0 536.1 276.4 532.8 275.7 529.4C275.1 526.1 274.5 522.7 273.9 519.3C273.3 516.0 272.7 512.5 272.2 509.1C271.6 505.7 271.1 502.2 270.5 498.7C269.9 495.2 269.4 491.7 268.7 488.3C268.0 484.9 267.3 481.5 266.3 478.3C265.3 475.1 264.2 472.0 262.8 469.2C261.4 466.4 259.7 463.9 257.8 461.5C255.9 459.2 253.6 457.1 251.2 455.2C248.9 453.3 246.2 451.7 243.5 450.1C240.7 448.6 237.7 447.3 234.7 446.1C231.7 444.8 228.5 443.8 225.4 442.8C222.2 441.8 218.9 440.9 215.7 440.1C212.4 439.3 209.1 438.6 205.8 437.8C202.6 437.0 199.3 436.3 196.0 435.5C192.7 434.8 189.5 434.0 186.3 433.1C183.1 432.2 179.9 431.2 176.7 430.1C173.6 429.0 170.5 427.8 167.5 426.4C164.5 424.9 161.6 423.4 158.7 421.6C155.9 419.8 153.1 417.7 150.5 415.6C147.9 413.4 145.3 411.1 143.0 408.6C140.6 406.2 138.3 403.5 136.2 400.8C134.1 398.1 132.1 395.2 130.3 392.3C128.5 389.3 126.9 386.3 125.5 383.2C124.1 380.1 122.8 376.9 121.8 373.7C120.8 370.5 120.0 367.3 119.4 364.0C118.8 360.7 118.5 357.5 118.4 354.2C118.2 350.9 118.3 347.6 118.6 344.3C118.9 341.1 119.4 337.8 120.1 334.6C120.7 331.3 121.6 328.1 122.6 324.9C123.6 321.7 124.8 318.6 126.1 315.5C127.4 312.4 128.9 309.3 130.5 306.3C132.1 303.3 133.8 300.4 135.6 297.5C137.4 294.6 139.4 291.8 141.4 289.1C143.4 286.3 145.5 283.7 147.7 281.1C149.8 278.6 152.1 276.1 154.4 273.7C156.7 271.3 159.1 269.0 161.5 266.8C163.9 264.6 166.5 262.5 169.0 260.4C171.6 258.4 174.2 256.4 176.9 254.5C179.6 252.6 182.3 250.8 185.1 249.1C187.9 247.4 190.7 245.7 193.6 244.2C196.5 242.6 199.4 241.1 202.4 239.7C205.4 238.3 208.4 237.0 211.5 235.7C214.5 234.4 217.6 233.2 220.7 232.1C223.8 231.0 227.0 230.0 230.2 229.0C233.4 228.0 236.6 227.1 239.8 226.3C243.1 225.4 246.4 224.6 249.6 223.9C252.9 223.2 256.2 222.6 259.6 222.0C262.9 221.5 266.2 220.9 269.6 220.5C272.9 220.1 276.3 219.7 279.7 219.3C283.0 219.0 286.4 218.8 289.8 218.6C293.2 218.4 296.6 218.2 299.9 218.1Z"/>
<path d="M287.6 263.6C291.0 263.7 294.4 263.8 297.7 264.0C301.0 264.2 304.4 264.4 307.7 264.7C311.0 265.0 314.3 265.4 317.6 265.8C320.9 266.2 324.2 266.6 327.5 267.2C330.8 267.7 334.0 268.2 337.3 268.9C340.5 269.5 343.8 270.2 347.0 270.9C350.2 271.6 353.4 272.4 356.6 273.3C359.8 274.1 362.9 275.0 366.1 275.9C369.3 276.9 372.4 277.9 375.5 278.9C378.7 279.9 381.8 281.0 384.9 282.2C387.9 283.3 391.0 284.5 394.1 285.7C397.1 287.0 400.2 288.2 403.2 289.6C406.2 290.9 409.2 292.3 412.2 293.7C415.2 295.1 418.1 296.6 421.1 298.1C424.0 299.6 426.9 301.1 429.8 302.7C432.7 304.3 435.6 305.9 438.4 307.6C441.3 309.3 444.1 311.0 446.9 312.8C449.7 314.5 452.5 316.4 455.3 318.2C458.0 320.0 460.8 321.9 463.5 323.8C466.2 325.8 468.9 327.7 471.6 329.7C474.2 331.7 476.9 333.7 479.5 335.8C482.1 337.9 484.7 340.0 487.2 342.1C489.8 344.3 492.3 346.5 494.8 348.7C497.3 350.9 499.8 353.1 502.3 355.4C504.7 357.7 507.1 360.0 509.5 362.4C511.9 364.7 514.3 367.1 516.6 369.5C519.0 371.9 521.3 374.3 523.5 376.8C525.8 379.3 528.0 381.8 530.3 384.3C532.5 386.9 534.7 389.4 536.8 392.0C538.9 394.6 541.1 397.2 543.1 399.8C545.2 402.5 547.3 405.2 549.3 407.9C551.3 410.5 553.3 413.3 555.2 416.0C557.2 418.8 559.1 421.5 561.0 424.3C562.9 427.1 564.7 429.9 566.5 432.8C568.3 435.6 570.1 438.5 571.8 441.4C573.6 444.2 575.3 447.2 576.9 450.1C578.6 453.0 580.2 456.0 581.8 458.9C583.4 461.9 584.9 464.9 586.4 467.9C587.9 470.9 589.4 473.9 590.8 476.9C592.3 480.0 593.7 483.0 595.0 486.1C596.4 489.2 597.7 492.3 598.9 495.4C600.2 498.5 601.4 501.6 602.6 504.7C603.8 507.9 604.9 511.0 606.0 514.2C607.1 517.3 608.2 520.5 609.2 523.7C610.2 526.9 611.2 530.1 612.1 533.3C613.0 536.5 613.9 539.7 614.7 542.9C615.6 546.2 616.4 549.4 617.1 552.6C617.9 555.9 618.6 559.1 619.2 562.4C619.9 565.7 620.5 568.9 621.0 572.2C621.6 575.5 622.1 578.8 622.5 582.1C623.0 585.3 623.4 588.6 623.8 591.9C624.1 595.2 624.5 598.5 624.7 601.8C625.0 605.1 625.2 608.5 625.3 611.7C625.4 615.0 625.5 618.3 625.4 621.6C625.4 624.9 625.3 628.2 625.1 631.4C624.9 634.7 624.6 638.0 624.2 641.2C623.8 644.4 623.3 647.6 622.7 650.8C622.0 654.0 621.3 657.2 620.4 660.3C619.6 663.4 618.6 666.5 617.5 669.6C616.3 672.7 615.1 675.7 613.6 678.7C612.2 681.7 610.6 684.7 608.9 687.6C607.2 690.5 605.3 693.4 603.3 696.2C601.3 699.0 599.2 701.8 596.9 704.4C594.7 707.0 592.3 709.6 589.8 712.0C587.3 714.5 584.7 716.8 582.0 719.0C579.4 721.2 576.6 723.3 573.8 725.2C570.9 727.1 568.0 728.9 565.0 730.4C562.1 732.0 559.0 733.4 555.9 734.7C552.9 735.9 549.7 736.9 546.6 737.7C543.4 738.6 540.2 739.2 537.0 739.6C533.8 740.1 530.5 740.4 527.3 740.5C524.1 740.6 520.8 740.5 517.5 740.3C514.3 740.1 511.0 739.7 507.8 739.2C504.5 738.7 501.3 738.1 498.1 737.3C494.8 736.6 491.6 735.7 488.5 734.7C485.3 733.7 482.2 732.6 479.1 731.4C476.0 730.2 472.9 728.9 469.9 727.5C466.9 726.1 463.9 724.6 461.0 723.1C458.1 721.5 455.2 719.8 452.3 718.1C449.5 716.4 446.7 714.6 443.9 712.7C441.1 710.8 438.4 708.9 435.7 706.9C433.0 704.9 430.3 702.8 427.7 700.7C425.1 698.5 422.5 696.3 419.9 694.1C417.4 691.9 414.9 689.6 412.4 687.3C410.0 685.0 407.5 682.6 405.1 680.2C402.7 677.8 400.4 675.4 398.1 672.9C395.8 670.4 393.5 668.0 391.2 665.4C389.0 662.9 386.8 660.4 384.6 657.9C382.5 655.3 380.3 652.8 378.3 650.2C376.2 647.6 374.1 645.0 372.1 642.4C370.1 639.8 368.1 637.2 366.1 634.5C364.2 631.9 362.3 629.2 360.4 626.5C358.5 623.8 356.7 621.1 354.8 618.4C353.0 615.6 351.3 612.9 349.5 610.1C347.8 607.3 346.0 604.5 344.3 601.7C342.7 598.9 341.0 596.1 339.4 593.2C337.7 590.4 336.1 587.5 334.6 584.6C333.0 581.7 331.5 578.8 330.0 575.8C328.4 572.9 327.0 569.9 325.5 566.9C324.1 563.9 322.6 560.9 321.2 557.8C319.8 554.8 318.4 551.7 317.1 548.7C315.7 545.6 314.4 542.5 313.1 539.3C311.8 536.2 310.5 533.0 309.3 529.8C308.0 526.6 306.8 523.4 305.6 520.2C304.4 516.9 303.2 513.7 302.0 510.4C300.8 507.1 299.7 503.8 298.5 500.6C297.3 497.3 296.1 494.1 294.8 490.9C293.5 487.7 292.2 484.5 290.8 481.5C289.4 478.4 288.0 475.4 286.5 472.5C284.9 469.6 283.3 466.8 281.5 464.1C279.8 461.5 277.9 458.9 275.9 456.5C273.9 454.1 271.7 451.9 269.4 449.8C267.1 447.7 264.6 445.8 262.0 444.0C259.5 442.2 256.7 440.6 253.9 439.0C251.1 437.5 248.2 436.0 245.2 434.6C242.2 433.3 239.1 432.0 236.0 430.7C232.9 429.5 229.7 428.3 226.4 427.1C223.2 425.9 220.0 424.8 216.7 423.6C213.4 422.5 210.1 421.3 206.9 420.1C203.6 418.9 200.3 417.7 197.1 416.5C193.9 415.2 190.7 413.9 187.6 412.5C184.5 411.0 181.4 409.6 178.4 408.0C175.4 406.3 172.5 404.7 169.8 402.8C167.0 401.0 164.4 399.1 161.9 397.0C159.4 394.9 157.1 392.7 155.0 390.3C152.9 387.9 151.0 385.4 149.3 382.6C147.6 379.9 146.2 377.0 145.0 373.9C143.8 370.9 142.8 367.7 142.1 364.4C141.5 361.2 141.0 357.8 140.9 354.4C140.7 351.1 140.8 347.7 141.2 344.4C141.5 341.1 142.2 337.8 143.1 334.7C144.0 331.5 145.2 328.5 146.6 325.5C148.1 322.6 149.7 319.8 151.6 317.0C153.4 314.3 155.5 311.7 157.7 309.2C159.9 306.7 162.3 304.3 164.8 302.0C167.3 299.7 169.9 297.5 172.6 295.5C175.3 293.4 178.2 291.5 181.0 289.6C183.9 287.8 186.8 286.1 189.7 284.4C192.7 282.8 195.7 281.3 198.8 279.9C201.8 278.5 204.9 277.2 208.1 276.0C211.2 274.8 214.4 273.7 217.6 272.7C220.8 271.7 224.0 270.8 227.3 270.0C230.6 269.1 233.9 268.4 237.2 267.8C240.5 267.1 243.8 266.5 247.2 266.0C250.5 265.5 253.9 265.1 257.3 264.8C260.6 264.5 264.0 264.2 267.4 264.0C270.8 263.8 274.1 263.7 277.5 263.6C280.9 263.6 284.3 263.6 287.6 263.6Z"/>
<path d="M258.4 297.4C261.7 297.4 265.1 297.5 268.5 297.6C271.8 297.8 275.2 298.0 278.5 298.3C281.9 298.6 285.2 298.9 288.5 299.3C291.8 299.7 295.1 300.2 298.4 300.8C301.7 301.3 305.0 301.9 308.3 302.6C311.5 303.2 314.8 304.0 318.0 304.7C321.2 305.5 324.4 306.4 327.6 307.3C330.8 308.2 334.0 309.1 337.2 310.1C340.4 311.2 343.5 312.2 346.6 313.4C349.8 314.5 352.9 315.7 356.0 316.9C359.1 318.1 362.2 319.4 365.2 320.7C368.3 322.1 371.3 323.4 374.3 324.9C377.3 326.3 380.3 327.8 383.3 329.3C386.3 330.8 389.2 332.4 392.2 334.0C395.1 335.7 398.0 337.3 400.9 339.0C403.8 340.7 406.6 342.5 409.5 344.3C412.3 346.1 415.1 347.9 417.9 349.8C420.7 351.7 423.4 353.6 426.2 355.5C428.9 357.5 431.6 359.5 434.3 361.5C437.0 363.5 439.7 365.6 442.3 367.7C444.9 369.8 447.5 371.9 450.1 374.1C452.6 376.3 455.2 378.5 457.7 380.7C460.2 382.9 462.7 385.2 465.2 387.5C467.6 389.8 470.0 392.1 472.4 394.4C474.8 396.8 477.2 399.2 479.5 401.6C481.9 404.0 484.2 406.4 486.4 408.9C488.7 411.3 490.9 413.8 493.2 416.3C495.4 418.9 497.5 421.4 499.7 424.0C501.8 426.5 504.0 429.1 506.1 431.7C508.1 434.4 510.2 437.0 512.2 439.7C514.3 442.3 516.3 445.0 518.2 447.7C520.2 450.4 522.1 453.2 524.0 455.9C525.9 458.7 527.8 461.5 529.6 464.3C531.5 467.1 533.3 469.9 535.0 472.7C536.8 475.6 538.6 478.4 540.3 481.3C542.0 484.2 543.7 487.1 545.3 490.0C547.0 492.9 548.6 495.8 550.1 498.8C551.7 501.7 553.3 504.7 554.8 507.7C556.3 510.6 557.8 513.6 559.3 516.7C560.7 519.7 562.1 522.7 563.5 525.7C564.9 528.8 566.2 531.8 567.6 534.9C568.9 538.0 570.1 541.1 571.4 544.2C572.6 547.3 573.8 550.4 574.9 553.5C576.0 556.6 577.1 559.8 578.1 563.0C579.1 566.1 580.1 569.3 581.0 572.5C581.9 575.7 582.7 578.9 583.5 582.1C584.3 585.4 585.0 588.6 585.6 591.9C586.2 595.1 586.8 598.4 587.3 601.7C587.7 605.0 588.1 608.4 588.4 611.7C588.8 615.0 589.0 618.4 589.1 621.8C589.3 625.1 589.3 628.5 589.3 632.0C589.2 635.4 589.1 638.8 588.8 642.3C588.6 645.7 588.3 649.2 587.8 652.7C587.3 656.2 586.8 659.7 586.1 663.2C585.4 666.6 584.6 670.1 583.7 673.5C582.7 676.8 581.6 680.2 580.3 683.3C579.0 686.4 577.6 689.5 576.0 692.3C574.4 695.2 572.6 697.8 570.5 700.2C568.5 702.6 566.3 704.8 563.8 706.7C561.3 708.6 558.6 710.2 555.7 711.5C552.9 712.8 549.7 713.7 546.5 714.4C543.3 715.1 539.9 715.5 536.6 715.6C533.3 715.7 529.8 715.5 526.5 715.1C523.2 714.7 519.9 714.0 516.7 713.1C513.5 712.1 510.4 711.0 507.3 709.6C504.3 708.3 501.3 706.7 498.3 705.1C495.4 703.4 492.5 701.6 489.7 699.7C486.8 697.8 484.1 695.7 481.3 693.7C478.6 691.6 475.9 689.4 473.2 687.3C470.5 685.1 467.9 682.9 465.3 680.7C462.7 678.5 460.2 676.3 457.6 674.1C455.1 671.8 452.6 669.5 450.1 667.3C447.7 665.0 445.3 662.7 442.9 660.4C440.5 658.0 438.1 655.7 435.8 653.3C433.4 650.9 431.1 648.6 428.9 646.1C426.6 643.7 424.3 641.3 422.1 638.8C419.9 636.4 417.7 633.9 415.6 631.4C413.4 628.9 411.3 626.3 409.2 623.8C407.1 621.2 405.1 618.7 403.1 616.1C401.0 613.4 399.0 610.8 397.0 608.2C395.1 605.5 393.1 602.8 391.2 600.1C389.3 597.4 387.4 594.7 385.5 591.9C383.6 589.2 381.8 586.4 380.0 583.6C378.2 580.8 376.4 577.9 374.6 575.1C372.8 572.2 371.1 569.3 369.4 566.4C367.7 563.5 366.0 560.5 364.3 557.6C362.6 554.6 360.9 551.6 359.3 548.7C357.6 545.7 356.0 542.7 354.3 539.7C352.7 536.7 351.0 533.7 349.4 530.7C347.7 527.7 346.1 524.7 344.4 521.7C342.8 518.7 341.1 515.7 339.4 512.7C337.7 509.8 336.0 506.8 334.3 503.9C332.6 501.0 330.9 498.1 329.1 495.2C327.4 492.3 325.6 489.4 323.8 486.6C321.9 483.8 320.1 481.0 318.2 478.3C316.3 475.5 314.4 472.8 312.4 470.2C310.5 467.5 308.5 464.9 306.4 462.3C304.3 459.8 302.2 457.3 300.1 454.8C297.9 452.4 295.7 450.0 293.4 447.7C291.2 445.3 288.8 443.1 286.4 440.9C284.0 438.7 281.6 436.6 279.0 434.6C276.5 432.5 273.9 430.6 271.2 428.7C268.5 426.8 265.7 425.0 262.9 423.4C260.0 421.7 257.1 420.0 254.1 418.5C251.1 417.0 248.1 415.5 245.0 414.1C241.8 412.7 238.7 411.4 235.5 410.1C232.3 408.8 229.1 407.6 225.8 406.4C222.6 405.2 219.3 404.0 216.0 402.9C212.8 401.7 209.5 400.6 206.2 399.5C203.0 398.4 199.7 397.3 196.5 396.2C193.3 395.0 190.0 394.0 186.9 392.7C183.8 391.5 180.7 390.3 177.8 388.7C174.9 387.1 172.1 385.4 169.5 383.3C167.0 381.2 164.5 378.8 162.4 376.1C160.4 373.4 158.5 370.2 157.3 367.2C156.1 364.2 155.4 361.1 155.3 358.1C155.1 355.1 155.5 352.0 156.3 349.1C157.1 346.1 158.3 343.2 159.9 340.4C161.4 337.5 163.3 334.8 165.5 332.2C167.6 329.6 170.1 327.0 172.6 324.7C175.2 322.3 178.0 320.1 180.8 318.1C183.6 316.0 186.6 314.2 189.6 312.5C192.6 310.8 195.6 309.3 198.7 307.9C201.9 306.6 205.0 305.4 208.2 304.3C211.4 303.3 214.7 302.4 218.0 301.6C221.3 300.8 224.6 300.1 228.0 299.6C231.3 299.1 234.7 298.6 238.0 298.3C241.4 298.0 244.8 297.7 248.2 297.6C251.6 297.4 255.0 297.4 258.4 297.4Z"/>
<path d="M550.0 700.0C548.4 699.7 543.4 698.8 540.2 697.9C537.0 697.0 533.9 696.0 530.9 694.8C527.9 693.6 525.0 692.2 522.1 690.7C519.3 689.2 516.5 687.5 513.8 685.7C511.1 684.0 508.5 682.0 505.9 680.0C503.3 678.0 500.8 675.9 498.4 673.7C495.9 671.5 493.5 669.2 491.2 666.8C488.8 664.4 486.5 661.9 484.3 659.4C482.0 656.9 479.8 654.3 477.6 651.7C475.5 649.1 473.3 646.4 471.2 643.7C469.1 641.0 467.1 638.3 465.0 635.6C463.0 632.9 460.9 630.1 458.9 627.4C456.9 624.7 454.9 621.9 453.0 619.2C451.0 616.4 449.1 613.7 447.1 610.9C445.2 608.2 443.3 605.4 441.4 602.7C439.5 599.9 437.6 597.1 435.7 594.4C433.8 591.6 431.9 588.9 430.1 586.1C428.2 583.4 426.4 580.6 424.5 577.9C422.6 575.1 420.8 572.3 419.0 569.6C417.1 566.8 415.3 564.1 413.4 561.3C411.6 558.6 409.7 555.8 407.9 553.1C406.1 550.3 404.2 547.6 402.4 544.9C400.5 542.1 398.6 539.4 396.8 536.7C394.9 533.9 393.0 531.2 391.2 528.5C389.3 525.8 387.4 523.0 385.5 520.3C383.6 517.6 381.7 514.9 379.7 512.2C377.8 509.5 375.8 506.8 373.9 504.1C371.9 501.5 369.9 498.8 367.9 496.1C365.9 493.4 363.9 490.8 361.8 488.1C359.8 485.5 357.7 482.8 355.6 480.2C353.5 477.5 351.4 474.9 349.3 472.3C347.1 469.7 344.9 467.1 342.7 464.5C340.5 461.9 338.3 459.4 336.0 456.9C333.8 454.3 331.5 451.8 329.1 449.4C326.8 446.9 324.5 444.5 322.1 442.1C319.7 439.8 317.2 437.4 314.8 435.1C312.3 432.9 309.8 430.6 307.3 428.5C304.8 426.3 302.2 424.2 299.6 422.2C297.0 420.1 294.3 418.2 291.6 416.3C289.0 414.4 286.2 412.6 283.5 410.8C280.7 409.1 277.9 407.4 275.0 405.9C272.2 404.3 269.3 402.8 266.4 401.5C263.4 400.1 260.4 398.8 257.4 397.6C254.4 396.4 251.3 395.4 248.2 394.3C245.1 393.3 241.9 392.4 238.7 391.5C235.5 390.5 232.2 389.7 228.9 388.9C225.6 388.0 222.3 387.2 218.9 386.4C215.5 385.6 212.0 384.8 208.5 384.0C205.0 383.2 201.5 382.4 197.9 381.5C194.4 380.6 190.7 379.8 187.2 378.7C183.8 377.7 180.3 376.6 177.3 375.2C174.3 373.8 171.4 372.3 169.1 370.5C166.9 368.6 164.8 366.5 163.6 364.1C162.5 361.8 161.8 358.8 162.3 356.2C162.8 353.6 164.7 350.8 166.8 348.4C168.9 346.0 172.0 343.6 174.8 341.7C177.6 339.7 180.7 338.0 183.7 336.5C186.8 335.1 189.9 333.9 193.1 332.9C196.2 331.9 199.5 331.1 202.7 330.4C206.0 329.7 209.3 329.2 212.6 328.7C215.9 328.3 219.2 327.9 222.6 327.6C225.9 327.3 229.3 327.0 232.7 326.8C236.0 326.7 239.4 326.5 242.8 326.5C246.2 326.5 249.6 326.5 253.0 326.6C256.3 326.7 259.7 326.8 263.1 327.1C266.5 327.3 269.8 327.6 273.2 328.0C276.5 328.4 279.9 328.9 283.2 329.5C286.5 330.0 289.8 330.6 293.0 331.3C296.3 332.0 299.5 332.8 302.7 333.7C305.9 334.6 309.1 335.5 312.2 336.5C315.4 337.5 318.5 338.6 321.6 339.8C324.7 340.9 327.8 342.2 330.8 343.5C333.9 344.8 336.9 346.1 339.9 347.5C342.9 349.0 345.8 350.4 348.8 352.0C351.7 353.5 354.6 355.1 357.5 356.8C360.4 358.4 363.2 360.1 366.1 361.9C368.9 363.6 371.7 365.5 374.5 367.3C377.3 369.2 380.0 371.1 382.7 373.0C385.5 374.9 388.2 376.9 390.8 378.9C393.5 381.0 396.2 383.0 398.8 385.1C401.4 387.2 404.0 389.4 406.6 391.5C409.2 393.7 411.7 395.9 414.2 398.1C416.7 400.3 419.2 402.6 421.7 404.8C424.2 407.1 426.6 409.4 429.0 411.7C431.5 414.0 433.9 416.4 436.2 418.7C438.6 421.1 440.9 423.5 443.3 425.9C445.6 428.3 447.9 430.7 450.1 433.2C452.4 435.6 454.6 438.1 456.8 440.6C459.0 443.1 461.2 445.6 463.4 448.1C465.5 450.6 467.7 453.2 469.8 455.8C471.9 458.4 473.9 460.9 476.0 463.6C478.0 466.2 480.1 468.8 482.1 471.5C484.0 474.1 486.0 476.8 487.9 479.5C489.9 482.2 491.8 484.9 493.7 487.7C495.5 490.4 497.4 493.2 499.2 496.0C501.0 498.7 502.8 501.5 504.6 504.4C506.4 507.2 508.1 510.0 509.8 512.9C511.5 515.7 513.2 518.6 514.8 521.5C516.5 524.4 518.1 527.3 519.7 530.3C521.3 533.2 522.8 536.2 524.3 539.1C525.9 542.1 527.4 545.1 528.8 548.1C530.3 551.1 531.7 554.2 533.1 557.2C534.5 560.3 535.9 563.4 537.3 566.4C538.6 569.5 539.9 572.6 541.2 575.8C542.5 578.9 543.7 582.1 544.9 585.2C546.2 588.4 547.3 591.6 548.5 594.8C549.6 598.0 550.8 601.2 551.9 604.4C552.9 607.7 554.0 610.9 555.0 614.2C555.9 617.4 556.9 620.7 557.7 624.0C558.5 627.2 559.3 630.5 559.9 633.8C560.5 637.1 561.0 640.3 561.4 643.6C561.8 646.9 562.1 650.1 562.2 653.4C562.3 656.6 562.3 659.8 562.1 663.0C561.9 666.2 561.5 669.4 561.0 672.5C560.4 675.7 559.6 678.8 558.6 681.9C557.7 685.0 556.5 688.1 555.0 691.1C553.6 694.1 550.8 698.5 550.0 700.0Z"/>
</g>
<path d="M16.0 400.5C17.9 399.8 23.5 397.8 27.3 396.5C31.1 395.2 34.8 393.9 38.6 392.5C42.4 391.2 46.2 389.9 50.0 388.6C53.8 387.3 57.6 386.0 61.4 384.7C65.3 383.5 69.1 382.2 72.9 381.0C76.8 379.8 80.6 378.5 84.5 377.4C88.4 376.2 92.2 375.1 96.1 374.0C100.0 372.9 103.9 371.8 107.8 370.8C111.7 369.7 115.6 368.7 119.5 367.8C123.5 366.9 127.4 366.0 131.3 365.2C135.3 364.4 139.2 363.6 143.2 362.9C147.2 362.2 151.2 361.5 155.1 360.9C159.1 360.4 163.1 359.8 167.1 359.4C171.1 359.0 175.2 358.6 179.2 358.3C183.2 358.1 187.3 357.9 191.3 357.7C195.4 357.6 199.4 357.6 203.5 357.7C207.5 357.7 211.6 357.9 215.7 358.1C219.7 358.3 223.7 358.7 227.8 359.1C231.8 359.5 235.8 360.0 239.8 360.6C243.8 361.2 247.8 362.0 251.7 362.8C255.6 363.6 259.6 364.5 263.4 365.5C267.3 366.5 271.2 367.6 275.0 368.9C278.8 370.1 282.5 371.4 286.3 372.9C290.0 374.3 293.6 375.9 297.3 377.5C300.9 379.2 304.4 381.0 308.0 382.8C311.5 384.7 315.0 386.6 318.4 388.7C321.8 390.7 325.2 392.9 328.6 395.1C331.9 397.3 335.2 399.6 338.4 401.9C341.7 404.3 344.9 406.7 348.1 409.2C351.2 411.7 354.3 414.3 357.4 416.9C360.5 419.5 363.5 422.2 366.5 425.0C369.5 427.7 372.5 430.5 375.4 433.3C378.3 436.1 381.2 438.9 384.0 441.8C386.9 444.7 389.7 447.6 392.4 450.6C395.2 453.5 397.9 456.5 400.6 459.5C403.3 462.5 405.9 465.6 408.6 468.6C411.2 471.7 413.8 474.8 416.3 477.9C418.9 481.0 421.4 484.1 423.9 487.3C426.4 490.4 428.8 493.6 431.2 496.8C433.7 500.0 436.1 503.2 438.4 506.4C440.8 509.7 443.1 512.9 445.5 516.2C447.8 519.5 450.1 522.8 452.3 526.1C454.6 529.4 456.8 532.8 459.0 536.1C461.3 539.5 463.4 542.8 465.6 546.2C467.8 549.6 469.9 553.0 472.1 556.4C474.2 559.8 476.3 563.3 478.4 566.7C480.5 570.1 482.6 573.6 484.6 577.1C486.7 580.5 488.7 584.0 490.7 587.5C492.8 591.0 494.8 594.5 496.8 598.0C498.7 601.5 500.7 605.0 502.7 608.5C504.7 612.0 506.6 615.6 508.6 619.1C510.5 622.6 512.4 626.2 514.4 629.7C516.3 633.3 518.2 636.8 520.1 640.4C522.0 643.9 523.9 647.5 525.8 651.1C527.7 654.6 529.6 658.2 531.5 661.8C533.4 665.3 535.3 668.9 537.2 672.5C539.1 676.0 540.9 679.6 542.8 683.2C544.7 686.7 546.6 690.3 548.4 693.9C550.3 697.4 552.2 701.0 554.1 704.6C555.9 708.1 557.8 711.7 559.7 715.2C561.6 718.8 563.4 722.3 565.3 725.9C567.2 729.5 569.0 733.0 570.9 736.6C572.8 740.1 574.7 743.7 576.5 747.2C578.4 750.8 580.3 754.3 582.1 757.9C584.0 761.5 585.8 765.0 587.7 768.6C589.6 772.1 591.4 775.7 593.3 779.2C595.1 782.8 597.0 786.4 598.8 789.9C600.7 793.5 602.5 797.0 604.4 800.6C606.2 804.2 608.0 807.7 609.9 811.3C611.7 814.9 613.6 818.4 615.4 822.0C617.2 825.6 619.0 829.1 620.9 832.7C622.7 836.3 624.5 839.9 626.3 843.4C628.1 847.0 630.0 850.6 631.8 854.2C633.6 857.8 635.4 861.4 637.2 865.0C639.0 868.5 640.8 872.1 642.6 875.7C644.4 879.3 646.2 882.9 647.9 886.6C649.7 890.2 651.5 893.8 653.3 897.4C655.0 901.0 656.8 904.6 658.6 908.2C660.3 911.9 662.1 915.5 663.8 919.1C665.6 922.8 667.3 926.4 669.1 930.1C670.8 933.7 672.6 937.3 674.3 941.0C676.0 944.7 677.7 948.3 679.5 952.0C681.2 955.6 683.7 961.2 684.6 963.0" fill="none" stroke="#000" stroke-width="8.8"/>
<g fill="#000">
<circle cx="170.0" cy="359.0" r="12.0"/>
<circle cx="181.7" cy="358.0" r="12.0"/>
<circle cx="200.0" cy="358.5" r="12.0"/>
<circle cx="225.0" cy="359.7" r="12.0"/>
<circle cx="254.0" cy="363.0" r="12.0"/>
<circle cx="287.5" cy="373.0" r="12.0"/>
<circle cx="320.8" cy="390.0" r="12.0"/>
<circle cx="355.8" cy="414.0" r="12.0"/>
<circle cx="388.0" cy="446.7" r="12.0"/>
<circle cx="422.0" cy="484.0" r="12.0"/>
<circle cx="452.0" cy="525.0" r="12.0"/>
<circle cx="479.0" cy="570.0" r="12.0"/>
<circle cx="502.5" cy="611.0" r="12.0"/>
<circle cx="522.5" cy="646.0" r="12.0"/>
<circle cx="537.0" cy="672.5" r="12.0"/>
<circle cx="545.0" cy="687.5" r="12.0"/>
</g>
<rect x="1090.3" y="39.15" width="147.3" height="115.54" fill="#b40426"/>
<rect x="1090.3" y="154.19" width="147.3" height="115.54" fill="#e26952"/>
<rect x="1090.3" y="269.23" width="147.3" height="115.54" fill="#f7a889"/>
<rect x="1090.3" y="384.26" width="147.3" height="115.54" fill="#edd1c2"/>
<rect x="1090.3" y="499.30" width="147.3" height="115.54" fill="#c9d7f0"/>
<rect x="1090.3" y="614.34" width="147.3" height="115.54" fill="#9abbff"/>
<rect x="1090.3" y="729.38" width="147.3" height="115.54" fill="#6788ee"/>
<rect x="1090.3" y="844.41" width="147.3" height="115.04" fill="#3b4cc0"/>
<rect x="1090.3" y="39.1" width="147.3" height="920.3" fill="none" stroke="#262626" stroke-width="4.3"/>
<rect x="1226.7" y="267.1" width="11.0" height="4.3" fill="#262626"/>
<rect x="1226.7" y="497.2" width="11.0" height="4.3" fill="#262626"/>
<rect x="1226.7" y="727.2" width="11.0" height="4.3" fill="#262626"/>
<g font-family="'DejaVu Sans', 'Liberation Sans', sans-serif" font-size="60.0" letter-spacing="1.0" fill="#262626">
<text x="1266.0" y="60.6">0</text>
<text x="1266.0" y="290.7">-4</text>
<text x="1266.0" y="520.8">-8</text>
<text x="1266.0" y="750.9">-12</text>
<text x="1266.0" y="981.0">-16</text>
</g>
<g transform="translate(1444.0 599.7) rotate(-90)" font-family="'DejaVu Sans', 'Liberation Sans', sans-serif" fill="#262626">
<text x="0" y="0" font-size="58.0" letter-spacing="0.5">log<tspan font-size="42.3" dy="29.0" dx="-0.5">10</tspan><tspan dy="-29.0" dx="-1.5"> E</tspan></text>
</g>
</svg>
</body></html>
